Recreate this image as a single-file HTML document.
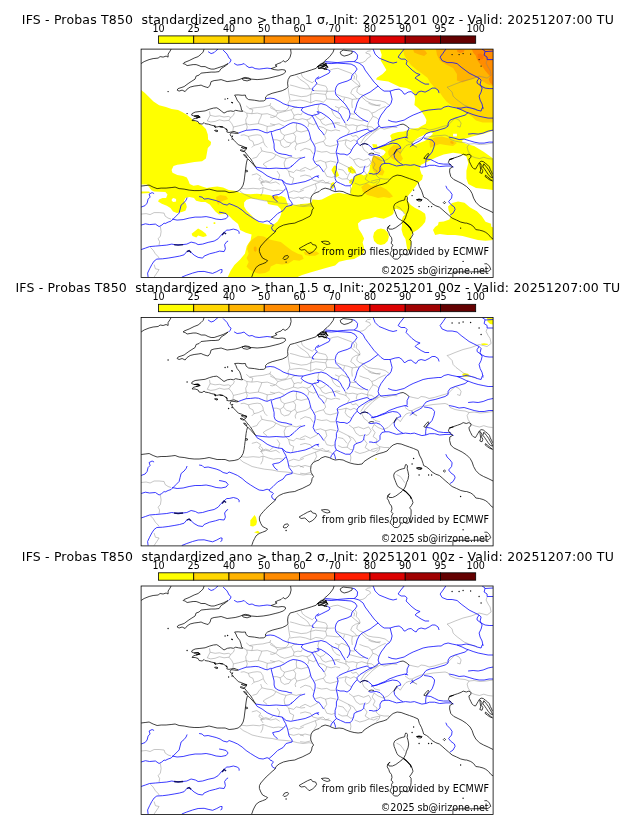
<!DOCTYPE html>
<html lang="fr"><head><meta charset="utf-8"><title>IFS - Probas T850</title>
<style>
html,body{margin:0;padding:0;background:#fff;}
body{width:630px;height:828px;overflow:hidden;position:relative;font-family:"DejaVu Sans","Liberation Sans",sans-serif;color:#000;}
#root{position:absolute;left:0;top:0;display:block;will-change:transform;opacity:0.999}
text{font-family:"DejaVu Sans","Liberation Sans",sans-serif;fill:#000}
.t{font-size:12.5px}
.l{font-size:9.6px}
.a{font-size:9.6px}
</style></head><body>
<svg id="root" width="630" height="828" viewBox="0 0 630 828">
<!-- panel 1 -->
<text class="t" x="21.8" y="23.6" textLength="592.0" lengthAdjust="spacing" xml:space="preserve">IFS - Probas T850  standardized ano &gt; than 1 σ, Init: 20251201 00z - Valid: 20251207:00 TU</text>
<rect x="158.50" y="35.9" width="35.24" height="7.4" fill="#ffff00" stroke="#000" stroke-width="0.8"/>
<rect x="193.74" y="35.9" width="35.24" height="7.4" fill="#ffd700" stroke="#000" stroke-width="0.8"/>
<rect x="228.99" y="35.9" width="35.24" height="7.4" fill="#ffb400" stroke="#000" stroke-width="0.8"/>
<rect x="264.23" y="35.9" width="35.24" height="7.4" fill="#ff8c00" stroke="#000" stroke-width="0.8"/>
<rect x="299.48" y="35.9" width="35.24" height="7.4" fill="#ff5f00" stroke="#000" stroke-width="0.8"/>
<rect x="334.72" y="35.9" width="35.24" height="7.4" fill="#ff1e00" stroke="#000" stroke-width="0.8"/>
<rect x="369.97" y="35.9" width="35.24" height="7.4" fill="#dc0000" stroke="#000" stroke-width="0.8"/>
<rect x="405.21" y="35.9" width="35.24" height="7.4" fill="#a00000" stroke="#000" stroke-width="0.8"/>
<rect x="440.46" y="35.9" width="35.24" height="7.4" fill="#640000" stroke="#000" stroke-width="0.8"/>
<text class="l" x="158.5" y="31.7" text-anchor="middle">10</text>
<text class="l" x="193.7" y="31.7" text-anchor="middle">25</text>
<text class="l" x="229.0" y="31.7" text-anchor="middle">40</text>
<text class="l" x="264.2" y="31.7" text-anchor="middle">50</text>
<text class="l" x="299.5" y="31.7" text-anchor="middle">60</text>
<text class="l" x="334.7" y="31.7" text-anchor="middle">70</text>
<text class="l" x="370.0" y="31.7" text-anchor="middle">80</text>
<text class="l" x="405.2" y="31.7" text-anchor="middle">90</text>
<text class="l" x="440.5" y="31.7" text-anchor="middle">95</text>
<text class="l" x="475.7" y="31.7" text-anchor="middle">100</text>
<svg x="141.1" y="49.1" width="352.0" height="228.4" viewBox="0 0 352.0 228.4" overflow="hidden">
<path d="M0.0 41.0 L3.8 43.8 L7.6 47.6 L12.4 52.4 L18.0 56.2 L24.8 58.0 L30.5 60.0 L37.0 61.0 L41.0 63.0 L45.7 65.7 L49.5 68.6 L52.4 71.4 L57.0 73.3 L61.0 76.2 L64.8 79.8 L66.7 85.5 L67.0 90.3 L70.0 93.0 L69.5 96.0 L66.7 98.9 L65.7 104.6 L64.8 109.3 L61.0 112.2 L53.3 113.0 L47.6 114.0 L42.0 115.0 L36.2 115.6 L32.4 117.0 L30.5 120.8 L31.4 123.6 L36.2 126.0 L42.0 127.0 L45.7 128.4 L47.6 132.2 L48.6 135.0 L52.4 136.6 L57.0 136.0 L61.0 137.3 L65.7 138.9 L71.4 137.9 L76.2 137.3 L82.0 138.5 L87.6 140.8 L93.3 141.7 L96.7 143.0 L103.0 144.7 L109.4 145.2 L115.7 144.7 L122.0 145.2 L128.4 145.8 L134.8 148.0 L140.3 147.0 L144.3 148.7 L146.0 153.5 L147.5 156.6 L153.8 155.8 L160.2 155.0 L166.5 154.3 L170.5 153.5 L171.3 150.3 L177.7 151.0 L180.8 150.3 L186.5 147.4 L192.2 144.6 L198.0 143.6 L203.6 145.0 L209.3 145.5 L209.3 140.8 L211.2 137.0 L209.3 133.0 L211.2 130.3 L214.0 126.5 L218.9 124.6 L222.7 126.5 L226.5 124.6 L228.4 120.8 L229.0 116.0 L232.0 113.0 L234.7 110.3 L238.3 108.0 L242.6 106.0 L244.7 103.0 L242.6 101.0 L238.3 99.6 L233.3 98.9 L232.0 96.7 L237.0 97.4 L242.6 96.7 L247.0 95.3 L249.7 92.4 L250.4 89.6 L249.0 86.7 L251.0 84.6 L257.0 83.0 L262.6 82.4 L267.0 81.0 L271.0 79.6 L277.0 78.9 L281.0 76.7 L284.7 74.6 L285.4 71.0 L283.3 66.7 L280.4 62.4 L277.0 58.9 L273.3 56.0 L274.0 49.5 L273.0 44.8 L270.0 41.0 L265.3 39.0 L258.7 38.0 L253.0 35.2 L247.2 32.4 L239.6 31.4 L234.9 30.5 L235.8 28.6 L241.5 24.8 L245.3 21.0 L242.5 16.2 L239.6 11.4 L240.6 5.7 L238.7 0.0 L352.0 0.0 L352.0 228.0 L86.7 228.0 L89.5 221.7 L93.3 216.0 L99.0 210.3 L103.8 204.6 L105.7 197.0 L109.5 191.2 L110.5 185.5 L104.8 183.6 L99.0 180.8 L97.0 175.0 L91.4 170.3 L87.6 166.5 L83.8 164.6 L77.9 165.3 L74.3 162.4 L71.4 158.9 L68.6 155.3 L64.3 153.0 L60.0 153.0 L55.0 151.7 L52.9 148.9 L48.6 148.0 L44.3 148.9 L42.9 151.7 L45.0 154.6 L45.7 158.0 L44.3 161.7 L40.7 163.0 L35.7 163.9 L32.0 162.4 L29.3 158.9 L25.7 156.7 L20.7 154.6 L17.0 152.4 L17.9 150.3 L21.4 148.9 L25.0 148.9 L26.4 145.3 L24.3 143.0 L18.6 142.7 L12.9 142.4 L10.0 141.0 L7.9 138.0 L5.7 135.3 L0.0 135.3Z M193.0 116.4 L195.6 117.0 L196.0 121.7 L198.0 126.5 L195.0 128.4 L192.2 124.6 L190.3 120.8Z M190.3 134.0 L193.0 133.0 L194.0 137.0 L191.2 139.8 L189.0 138.0Z M206.5 118.9 L210.3 117.0 L214.0 120.8 L215.0 123.6 L211.2 124.6 L207.4 122.7Z M208.4 131.2 L211.2 129.3 L213.0 132.2 L210.3 135.0 L208.0 134.0Z M231.2 95.0 L236.0 95.5 L236.0 99.0 L232.0 98.5Z M50.5 184.6 L54.3 181.7 L57.0 179.4 L61.0 181.7 L64.8 184.6 L65.7 187.0 L62.0 187.8 L57.0 186.5 L55.2 188.4 L51.4 187.0Z M72.5 173.2 L74.2 173.2 L74.2 174.8 L72.5 174.8Z M65.0 177.6 L66.5 177.6 L66.5 179.0 L65.0 179.0Z M0.0 142.4 L8.0 142.5 L9.0 144.0 L0.0 144.5Z" fill="#ffff00"/>
<path d="M155.4 228.3 L161.0 226.0 L168.3 223.6 L176.0 221.5 L186.5 218.5 L194.0 216.5 L198.0 212.7 L205.5 210.8 L213.0 209.8 L220.0 206.0 L223.0 203.6 L223.0 198.9 L221.5 193.3 L223.0 189.3 L220.7 184.6 L217.6 179.8 L216.8 174.3 L220.7 171.0 L228.7 169.5 L234.0 168.0 L238.3 168.9 L242.6 169.6 L246.9 168.0 L251.0 166.0 L252.6 164.0 L252.5 162.0 L253.0 160.6 L255.4 159.6 L259.0 160.8 L262.6 163.0 L264.0 165.3 L261.9 167.4 L260.4 171.7 L261.0 176.0 L260.4 180.3 L261.9 186.0 L264.4 189.8 L265.3 195.5 L266.3 201.2 L268.2 201.2 L270.0 195.5 L270.4 186.0 L272.6 183.0 L276.9 180.3 L281.0 176.7 L284.0 173.0 L284.7 168.9 L284.0 164.6 L279.7 161.7 L274.0 158.9 L269.7 156.0 L266.9 152.4 L265.4 148.9 L267.6 146.0 L270.4 142.4 L274.0 138.0 L276.9 133.9 L281.0 130.3 L281.9 126.0 L280.6 125.5 L278.7 119.8 L279.6 116.0 L287.2 112.2 L294.9 108.4 L302.5 105.5 L312.0 103.6 L319.6 104.6 L325.3 107.4 L327.2 114.0 L325.3 121.7 L325.3 129.3 L327.2 135.0 L334.9 138.9 L344.4 139.8 L352.0 140.8 L352.0 228.0Z M103.0 153.5 L105.4 150.6 L110.2 149.5 L115.7 150.0 L121.3 151.0 L126.0 151.9 L126.9 155.0 L131.6 155.8 L136.4 156.6 L139.6 159.8 L140.3 163.8 L138.8 168.5 L136.4 172.5 L133.2 174.9 L128.4 175.7 L123.7 174.9 L118.0 173.3 L113.4 169.3 L109.4 165.4 L105.4 161.4 L103.0 157.4Z M271.0 94.6 L274.0 91.0 L278.3 88.0 L284.0 85.3 L289.7 83.0 L292.0 84.6 L288.3 88.0 L284.0 91.7 L278.3 93.9 L274.0 96.0Z M312.0 84.6 L315.8 84.6 L315.8 87.4 L312.0 87.4Z M321.0 93.0 L321.5 90.3 L331.0 87.4 L342.5 84.6 L352.0 81.7 L352.0 109.3 L342.5 102.7 L333.0 97.0 L325.3 95.0Z M30.7 150.0 L32.5 148.9 L35.0 150.0 L35.0 152.5 L32.5 153.0 L30.7 152.0Z" fill="#fff"/>
<path d="M232.0 187.7 L233.0 183.5 L236.0 180.5 L239.8 179.5 L243.6 180.5 L246.6 183.5 L247.8 187.7 L246.6 192.0 L243.6 195.0 L239.8 196.0 L236.0 195.0 L233.0 192.0Z M306.9 157.4 L311.0 153.9 L316.9 152.4 L323.4 153.6 L329.0 158.4 L335.8 162.2 L340.6 167.0 L344.4 172.7 L350.0 174.6 L350.0 177.4 L352.0 178.4 L352.0 190.8 L344.4 191.7 L336.8 190.8 L329.0 188.9 L321.5 187.0 L314.0 186.0 L306.3 186.0 L298.7 185.0 L294.0 186.0 L291.9 181.0 L294.0 178.0 L296.9 176.0 L297.6 173.0 L302.6 172.4 L308.3 170.3 L309.7 166.7 L307.6 161.7Z" fill="#ffff00"/>
<path d="M261.5 0.0 L263.4 6.7 L266.3 11.4 L270.0 16.2 L275.8 21.0 L281.5 24.8 L286.3 28.6 L289.0 33.3 L293.0 38.0 L297.7 42.0 L301.5 47.6 L305.3 52.4 L310.0 56.2 L315.8 59.0 L321.5 62.0 L327.2 64.8 L331.0 67.6 L334.9 71.4 L341.5 73.3 L352.0 73.3 L352.0 0.0Z M249.0 98.9 L252.6 96.0 L258.3 96.7 L260.4 100.3 L259.7 105.3 L261.9 109.6 L259.7 112.4 L255.4 111.7 L251.0 109.6 L247.6 106.0 L246.9 102.4Z M232.0 106.5 L237.7 107.4 L241.5 112.2 L239.6 117.0 L243.4 122.7 L241.5 126.5 L235.8 125.5 L232.0 121.7 L230.0 114.0Z M288.2 92.2 L293.0 88.4 L300.6 87.4 L308.2 89.3 L315.8 94.0 L312.0 97.0 L304.4 96.0 L298.7 95.0 L293.0 97.0 L289.0 98.9Z M232.0 138.9 L239.7 137.4 L245.4 140.3 L249.7 144.6 L251.9 147.4 L248.3 148.9 L242.6 148.0 L236.9 148.9 L232.0 147.4 L226.0 146.0 L221.0 142.0 L222.0 139.0 L227.0 137.0Z M220.0 138.0 L225.5 134.0 L230.3 137.0 L236.0 135.0 L236.0 148.0 L232.0 146.5 L227.4 142.7 L222.0 141.7Z M107.6 194.6 L111.0 190.3 L116.9 186.7 L122.6 187.4 L128.3 190.3 L134.0 191.7 L139.7 193.0 L145.4 197.4 L151.0 201.7 L156.9 204.6 L161.0 206.0 L162.6 209.6 L158.3 211.7 L152.6 211.0 L146.9 214.6 L141.0 215.3 L135.4 214.6 L129.7 217.4 L128.3 221.7 L124.0 223.9 L118.3 224.6 L112.6 223.0 L108.3 220.3 L105.4 217.4 L107.6 213.0 L105.4 208.9 L107.6 204.6 L106.0 199.6Z M162.6 203.0 L168.3 201.7 L175.4 202.4 L178.3 204.6 L174.0 206.7 L168.3 206.7 L164.0 206.0Z M75.0 148.0 L79.0 146.0 L85.0 147.0 L87.0 150.0 L83.0 151.5 L79.0 153.0 L77.0 156.0 L75.5 152.0Z M131.0 147.0 L136.0 146.5 L138.0 149.0 L134.0 151.0 L130.5 149.5Z" fill="#ffd700"/>
<path d="M294.9 0.0 L295.8 5.7 L298.7 11.4 L304.4 15.2 L312.0 19.0 L315.8 24.8 L315.8 31.4 L321.5 33.3 L329.0 30.5 L335.8 28.6 L340.6 31.4 L346.3 35.2 L352.0 37.0 L352.0 0.0Z M272.0 0.5 L278.0 0.0 L284.0 1.5 L286.0 4.5 L283.0 7.0 L278.0 5.5 L273.0 3.5Z M112.6 198.5 L114.0 197.2 L115.4 198.5 L115.6 201.5 L114.2 203.0 L112.8 201.5Z M309.0 92.5 L311.0 92.0 L313.0 94.0 L311.5 95.0 L309.5 94.2Z" fill="#ffb400"/>
<path d="M330.7 0.0 L332.0 3.3 L334.7 6.7 L336.0 10.7 L338.7 14.7 L341.3 17.3 L344.0 21.3 L346.7 24.7 L349.3 27.3 L347.5 30.0 L349.0 34.0 L352.0 36.0 L352.0 0.0Z M316.0 0.5 L319.0 0.3 L323.5 1.0 L322.5 3.2 L318.5 3.8 L316.0 2.5Z" fill="#ff8c00"/>
<path d="M336.5 5.0 L339.5 4.3 L342.5 6.5 L342.0 10.0 L339.0 10.7 L336.8 8.5Z" fill="#ff7800"/>
<path d="M187.9 21.4 L192.3 19.8 L196.8 19.2 L201.2 20.9 L205.7 22.6 L210.1 24.2 L213.4 27.0 L212.9 30.3 M160.1 24.2 L161.2 27.6 L164.6 30.3 L167.9 32.0 L171.2 33.7 L172.9 32.0 M171.8 41.4 L176.8 41.8 L182.3 42.0 L187.9 42.2 L192.9 42.0 M195.7 45.3 L201.2 47.6 L206.8 48.7 L211.2 50.3 L215.7 49.8 L219.0 49.2 M175.1 34.8 L179.6 35.9 L184.6 37.0 L186.2 39.8 L185.7 42.0 M149.0 35.9 L153.4 37.0 L159.0 38.7 L164.6 39.8 L169.0 39.8 L171.2 39.8 M155.7 27.0 L159.0 30.3 L163.4 33.1 L166.8 35.9 L169.0 39.8 M149.0 45.3 L154.6 46.4 L160.1 47.6 L165.7 47.0 L169.6 45.3 L170.7 42.0 M169.6 45.3 L174.6 44.2 L180.1 44.8 L184.6 45.3 L186.2 42.0 M149.0 52.0 L153.4 51.4 L159.0 50.9 L164.6 52.0 L169.6 53.7 L169.6 45.3 M184.6 45.3 L185.7 49.8 L182.3 53.1 L179.0 52.0 L174.6 51.4 L169.6 53.7 M185.7 49.8 L191.2 50.3 L196.8 50.9 L200.1 50.3 M209.6 29.8 L213.4 33.1 L216.8 35.9 L219.0 37.6 M211.2 40.3 L214.6 38.1 L219.0 37.0 M209.6 44.2 L211.2 40.3 M209.6 44.2 L212.9 46.4 L215.7 49.8 M211.2 50.3 L210.7 54.2 L211.2 59.0 M203.4 48.7 L202.3 52.6 M229.6 1.7 L226.2 2.2 L224.6 3.9 L228.4 5.0 L229.6 7.2 L226.2 9.4 L224.6 11.7 L221.8 13.3 L218.4 13.9 M214.0 23.9 L215.7 26.7 L215.1 30.6 L217.9 33.3 L219.0 36.7 L216.2 39.4 L215.7 42.8 L218.4 45.0 L221.8 46.1 L227.0 50.0 L232.0 51.0 L238.0 51.5 L244.0 53.0 L248.0 56.0 M338.0 27.0 L330.0 30.0 L322.0 32.0 L314.0 35.0 L308.0 37.5 L306.0 38.0 L308.0 40.0 L311.0 43.0 L312.0 47.0 L315.0 50.0 L319.0 53.0 L323.0 56.0 L328.0 58.0 L333.0 60.0 L336.0 61.0 M338.0 27.0 L342.0 28.0 L346.0 29.0 L350.0 26.0 L349.0 21.0 L347.0 18.0 L345.0 14.0 L346.0 11.0 M268.0 79.0 L272.0 80.0 L277.0 81.0 L280.0 79.0 L284.0 79.5 L288.0 81.0 L293.0 80.0 L298.0 78.5 L303.0 77.0 L307.0 76.0 L311.0 72.0 L314.0 69.0 L318.0 71.0 L320.0 74.0 L319.0 78.0 L316.0 77.0 M264.0 90.0 L268.0 93.0 L271.0 93.0 L275.0 91.0 L280.0 89.0 L286.0 88.0 L292.0 87.0 L298.0 86.5 L304.0 86.0 L307.0 87.0 L309.0 90.0 L314.0 92.0 L319.0 93.0 L324.0 93.5 L328.0 95.0 L326.0 98.0 L327.0 102.0 L329.0 105.0 M271.0 93.0 L273.0 97.0 L276.0 98.0 M328.0 95.0 L333.0 94.5 L339.0 95.5 L345.0 95.0 L352.0 94.0 M330.0 107.0 L334.0 108.5 L338.3 109.5 L342.7 108.2 L347.0 109.5 L351.4 110.0 M240.0 78.5 L236.0 81.0 L232.0 84.0 L228.0 88.0 L224.0 92.0 L221.0 97.0 L223.0 101.0 L227.0 104.0 M233.0 107.0 L237.0 110.0 L242.0 112.0 L247.0 110.0 L250.0 107.0 L253.0 104.0 L256.7 101.6 L259.2 104.2 L261.7 100.3 L264.9 96.5 L268.1 95.3 L273.2 96.5 L275.7 98.4 M230.0 132.1 L235.1 130.8 L238.9 130.2 L237.6 133.4 L235.1 135.3 M233.0 107.0 L231.0 111.0 L234.0 115.0 L232.0 119.0 L236.0 122.0 L235.0 126.0 L238.0 129.0 L243.0 130.0 L248.0 130.0 M98.7 141.7 L102.0 144.5 L106.5 146.7 L111.0 149.0 L116.5 150.3 L123.5 151.7 L131.0 152.5 L138.0 154.0 L145.0 154.5 L151.0 155.3 L156.5 156.7 L162.0 157.5 L168.0 156.7 L171.5 157.5 M0.0 165.0 L5.0 164.5 L9.0 165.5 L13.0 163.5 L18.0 163.5 L23.0 164.0 L24.0 167.0 L27.0 169.0 L30.0 170.0 M19.3 177.5 L20.0 182.5 L19.3 187.0 L17.0 189.7 L18.5 192.5 L18.0 196.0 M9.3 198.3 L12.0 201.0 L14.3 204.7 L17.0 207.5 L18.0 209.0 M13.0 215.5 L14.3 219.7 L18.0 220.5 L15.7 224.0 L13.0 228.0 M255.4 157.1 L259.2 159.0 L262.1 162.8 L263.5 165.2 M128.4 56.2 L132.3 58.8 L134.8 61.3 L139.9 62.0 L145.0 61.3 L147.5 58.1 L146.9 54.3 L148.8 50.5 L148.1 46.7 L147.5 42.9 L146.9 38.4 M220.0 47.3 L225.0 51.8 L230.1 54.3 L235.2 56.2 L239.0 56.9 M119.6 98.0 L120.8 101.8 L117.7 105.0 L115.7 108.1 L111.3 109.4 M120.8 101.8 L125.9 103.0 L131.0 103.7 L134.8 105.6 L132.9 108.8 L128.4 111.3 L124.6 113.2 L122.0 115.1 L125.9 118.3 M134.8 105.6 L139.9 108.1 L145.0 109.4 L143.0 113.8 L143.7 118.3 M145.0 109.4 L150.0 108.1 L155.1 109.4 L160.2 108.1 M110.7 125.9 L115.7 124.6 L119.6 127.2 L117.7 130.4 L120.8 132.9 L124.6 131.6 L128.4 132.9 L132.3 129.7 M136.0 122.0 L138.6 125.9 L137.3 131.0 M143.7 118.3 L147.5 122.0 L152.6 123.4 L155.1 120.8 L160.2 122.0 L164.0 121.5 M147.5 122.0 L148.8 127.2 L152.6 129.0 L151.3 134.2 M119.6 133.5 L122.0 137.0 M175.5 101.8 L180.6 103.0 L185.7 102.4 L189.5 104.3 L194.6 104.3 M174.2 112.6 L179.3 111.3 L184.4 113.2 L189.5 112.0 L195.2 113.2 M184.4 113.2 L185.7 118.3 L183.1 122.0 L185.7 127.2 L190.7 128.4 L193.9 127.2 M159.0 101.8 L164.0 99.2 L169.2 100.5 L172.3 105.0 M159.0 120.8 L164.0 118.3 L169.2 120.8 L174.2 118.3 L177.4 116.4 M197.1 113.2 L202.2 115.7 L207.3 118.3 L209.8 122.0 L207.3 125.9 L206.0 129.7 L209.8 132.3 L211.7 131.6 M207.9 107.5 L212.3 110.7 L217.4 109.4 L222.5 111.3 L227.6 109.4 L230.1 113.2 L227.6 117.0 L224.4 118.3 M212.3 110.7 L214.9 115.7 L218.7 118.3 L222.5 117.7 M207.3 118.3 L212.3 120.8 L216.1 126.5 M230.1 99.2 L233.9 103.0 L239.0 104.3 M159.0 127.2 L164.0 125.9 L169.2 127.2 L171.7 131.0 L176.8 132.3 L181.9 131.0 L184.4 133.5 L189.5 134.8 L192.0 137.0 M99.9 139.2 L105.6 139.8 L112.0 139.2 L118.3 139.8 L122.0 138.5 L127.2 140.4 L132.3 141.7 L137.3 141.0 L142.4 141.7 M122.0 138.5 L121.5 143.0 L119.6 146.8 M119.6 134.0 L124.6 132.8 L129.7 134.0 L134.8 132.8 L138.6 135.3 M147.5 143.6 L152.6 141.7 L157.7 143.0 L162.7 141.0 M147.5 148.0 L152.6 149.3 L157.7 148.0 L162.7 150.0 M119.6 129.0 L122.0 131.5 L119.6 134.0 M159.0 141.0 L164.0 138.5 L169.2 136.6 L174.2 134.7 L179.3 132.8 L184.4 134.0 L188.2 132.8 M169.2 149.3 L164.0 148.0 L159.0 149.3 M169.2 155.0 L164.0 156.3 L159.0 155.7 M209.2 136.6 L209.8 140.4 L209.2 144.2 M213.6 134.0 L218.7 136.0 L223.8 134.7 L228.2 132.8 L232.7 134.0 L236.5 132.2 M174.2 134.7 L175.5 139.2 L173.0 143.6 M223.0 122.0 L226.0 126.0 L224.0 130.0 L228.2 132.8 M197.0 120.0 L202.0 121.0 L206.0 125.9 M197.0 128.0 L201.0 130.0 L206.0 129.7 M68.4 62.3 L69.0 66.2 L67.3 69.6 L66.2 71.8 L69.6 72.9 L74.0 72.3 L78.4 70.7 L82.9 71.8 L87.9 71.2 L89.6 68.4 L92.3 66.2 L93.4 63.4 M69.0 66.2 L74.0 67.3 L78.4 66.8 L82.9 67.9 L87.3 67.3 L89.6 68.4 M87.9 71.2 L90.7 74.6 L92.3 77.9 L91.8 81.8 M92.3 77.9 L97.3 76.8 L101.8 75.7 L105.1 74.6 L104.6 70.7 L106.2 67.3 L105.7 64.0 M101.8 61.8 L105.7 64.0 L110.7 64.6 L116.2 64.0 L120.7 65.1 L126.2 64.6 L130.7 66.2 L134.0 67.3 M105.1 56.8 L108.4 59.6 L111.8 59.0 L116.2 58.4 L121.8 57.9 L126.2 56.8 L129.0 56.2 L129.6 54.0 M110.7 64.6 L111.8 60.7 L108.4 59.6 M105.1 74.6 L108.4 75.7 L112.9 75.1 L117.3 74.6 L121.8 75.7 L126.2 77.3 L130.7 76.8 L134.0 75.7 M120.7 65.1 L119.6 68.4 L117.9 71.8 L117.3 74.6 M105.1 74.6 L106.2 77.9 L105.1 81.2 M99.6 86.2 L102.9 85.7 L107.3 87.3 L111.8 86.2 L116.2 85.7 L119.6 86.2 L121.8 89.6 L122.3 92.9 L124.0 96.2 L126.2 98.4 M107.3 87.3 L108.4 90.7 L111.8 92.3 L112.9 96.2 L110.7 98.4 M112.9 96.2 L117.3 95.1 L121.8 92.9 M126.2 77.3 L125.7 80.7 L126.2 83.8 M129.0 58.4 L133.4 60.7 L136.8 64.0 L134.6 67.3 L131.2 68.4 L129.0 67.9 M136.8 64.0 L141.2 62.9 L145.7 61.8 L150.1 60.7 L152.9 58.4 L155.7 57.9 M134.6 67.3 L139.0 70.7 L143.4 72.3 L147.9 71.2 L152.3 69.6 L152.9 66.2 L150.1 60.7 M152.9 66.2 L156.8 65.1 L160.1 65.7 L161.2 63.4 M152.3 69.6 L156.8 70.7 L161.2 69.6 L165.7 70.7 L169.0 69.6 L170.7 66.8 M165.7 70.7 L167.9 74.0 L166.8 77.9 M167.9 74.0 L172.3 75.7 L175.7 74.0 M129.0 74.6 L133.4 75.7 L137.9 74.6 L141.2 76.2 L143.4 77.3 M139.0 80.1 L140.1 84.0 L143.4 86.2 L142.3 89.6 L139.0 91.8 L135.7 90.7 L131.8 90.7 M143.4 86.2 L147.9 85.1 L152.3 84.0 L155.7 81.8 L155.1 77.9 L155.7 74.0 M155.7 81.8 L160.1 82.9 L164.6 81.8 L167.3 81.2 M152.3 84.0 L154.6 87.3 L154.0 91.8 L155.7 95.1 L154.0 98.4 L154.6 101.0 M142.3 89.6 L145.7 92.9 L150.1 94.0 L154.0 91.8 M155.7 95.1 L160.1 94.0 L164.6 92.9 L168.4 90.7 L169.0 89.0 M139.0 91.8 L140.1 96.2 L143.4 98.4 L147.9 97.3 L150.1 94.0 M173.4 95.1 L177.9 93.4 L182.3 92.3 L184.6 89.6 L183.4 86.2 M182.3 92.3 L184.6 96.2 L189.0 97.3 L193.4 96.2 L196.8 95.1 M177.9 77.3 L182.3 78.4 L185.7 80.7 L184.6 84.0 L182.9 86.2 M185.7 80.7 L190.1 81.8 L194.6 80.7 L199.0 81.8 M173.4 64.6 L175.7 68.4 L179.0 70.7 L182.3 69.6 L184.6 67.3 M179.0 70.7 L181.2 74.6 L184.6 76.2 L187.9 75.1 L191.2 74.6 M177.9 55.3 L176.8 59.6 L177.9 63.4 M190.1 59.6 L192.3 65.1 L195.7 68.4 L199.0 69.6 M191.2 74.6 L195.7 73.4 L199.0 74.0 M194.0 57.3 L197.9 59.0 L200.7 57.3 L204.6 59.0 L207.9 60.7 M197.9 59.0 L197.3 62.9 M207.9 68.4 L211.8 69.6 L216.2 70.7 L220.7 71.8 L223.4 71.2 M209.0 64.6 L212.9 65.1 L215.7 63.4 M218.4 58.4 L222.9 60.1 L227.3 61.2 L230.7 64.0 L231.8 67.3 L235.1 68.4 L237.9 70.7 M230.7 64.0 L234.0 62.9 L237.3 60.7 L240.7 59.0 L244.6 57.3 M227.3 54.0 L230.7 55.7 L235.1 56.2 L239.6 55.7 M231.8 67.3 L229.6 70.7 L227.3 74.0 L226.2 77.3 L227.3 80.1 M226.2 77.3 L230.7 77.9 L234.0 80.7 L236.8 79.0 M204.0 74.6 L207.3 76.2 L211.8 75.7 L216.2 76.8 L220.7 75.7 L226.2 77.3 M216.2 76.8 L215.1 80.7 L216.2 82.3 M204.6 74.6 L205.1 78.4 L208.4 81.8 L206.2 85.7 M194.0 74.0 L198.4 76.2 L202.9 77.3 L205.1 78.4 M196.2 92.3 L200.7 91.8 L205.1 90.7 L209.6 92.3 L212.9 90.7 L215.7 92.3 M205.1 90.7 L204.0 95.1 L206.2 98.4 L210.7 101.0 M209.6 85.7 L211.8 87.3 L215.1 86.2 L217.9 89.6 M237.3 79.0 L234.0 81.2 L230.7 82.9 L227.3 85.1 L224.0 87.3 L221.8 90.7 L219.6 94.0 M239.6 78.4 L242.9 80.1 L247.3 79.0 L251.8 77.9 L256.2 78.4" fill="none" stroke="#808080" stroke-width="0.45"/>
<path d="M67.0 2.5 L70.0 4.5 L73.0 3.5 L75.0 1.5 L77.0 0.0 M82.0 1.0 L86.0 5.0 L88.0 9.0 L90.0 10.7 L89.0 13.0 L87.5 14.5 M93.0 14.3 L96.0 16.0 L100.0 15.5 L103.0 14.5 L105.0 16.5 L108.0 18.5 L111.0 18.0 L114.0 19.5 L118.0 20.0 L122.0 19.5 L126.0 19.0 L130.0 19.5 M125.0 49.5 L129.0 49.0 L133.0 49.5 L136.0 51.0 L139.0 52.5 L142.0 54.5 L146.0 56.0 L150.0 57.0 L154.0 58.0 L158.0 58.5 L162.0 58.5 L160.0 61.0 L163.0 63.5 L167.0 65.5 L171.0 66.5 L175.0 65.5 L178.0 64.5 L176.0 62.5 L180.0 63.5 L184.0 66.0 L188.0 69.0 L191.0 72.0 L193.0 76.0 L194.0 79.0 M162.0 58.5 L166.0 57.5 L170.0 56.5 L174.0 55.5 L178.0 55.0 L180.0 54.5 L185.0 56.0 L189.0 59.0 L192.0 61.0 L196.0 62.5 L199.0 65.0 L201.0 69.0 L203.0 72.0 L204.0 74.0 M171.0 66.5 L173.0 70.0 L175.0 74.0 L177.0 78.0 L178.0 80.0 L181.0 83.0 L183.0 86.0 M178.0 27.5 L175.0 29.5 L174.0 32.0 L176.0 34.0 L174.0 36.5 L172.0 38.5 L171.0 41.0 L173.0 41.5 M176.0 30.0 L180.0 28.0 L184.0 26.0 L188.0 24.0 L189.0 22.0 L186.0 20.0 M184.0 12.5 L190.0 13.0 L196.0 13.5 L202.0 13.0 L208.0 12.5 L213.0 12.5 L216.0 10.0 L216.5 6.0 L214.0 3.0 L211.0 2.0 M213.0 12.5 L218.0 14.0 L222.0 17.0 L224.0 21.0 L227.0 25.0 L230.0 29.0 L233.0 33.0 L236.0 36.0 L238.0 38.0 L240.0 40.0 L243.0 42.0 L247.0 42.0 L249.0 42.0 L250.0 46.0 L251.0 50.0 L250.0 54.0 L248.0 57.0 L246.0 58.0 L243.0 62.0 L240.0 66.0 L238.0 70.0 L237.0 74.0 L238.0 77.0 L240.0 78.5 L245.0 78.0 L250.0 77.5 L255.0 77.0 L259.0 75.5 M249.0 42.0 L254.0 40.5 L258.0 40.0 L261.0 42.0 L263.0 45.0 L264.0 45.0 L267.0 43.0 L270.0 42.5 L273.0 45.0 L275.0 46.0 L277.0 43.0 L280.0 42.0 L284.0 43.0 L288.0 41.0 L291.0 39.0 L294.0 39.0 L297.0 41.0 L298.0 44.0 M184.0 14.0 L190.0 14.5 L196.0 14.0 L204.0 14.5 L210.0 15.0 L214.0 17.0 L216.0 20.0 L214.0 23.0 L211.0 26.0 L210.0 30.0 L206.0 32.0 L201.0 33.5 L197.0 35.0 L195.0 38.0 L194.0 42.0 L195.0 46.0 L198.0 49.0 L201.0 52.0 L204.0 55.0 L206.0 58.0 L208.0 61.0 L209.0 65.0 L208.0 69.0 L206.0 72.0 M237.0 37.0 L233.0 40.0 L229.0 43.0 L225.0 45.0 L221.0 47.0 L218.0 50.0 L216.0 54.0 L215.0 58.0 L214.0 61.0 L213.0 63.0 L216.0 66.0 L219.0 68.5 L222.0 70.5 L225.0 72.0 L227.0 72.5 M232.0 0.0 L234.0 5.0 L238.0 9.0 L243.0 11.0 L248.0 13.0 L252.0 14.0 L256.0 13.0 M263.0 0.0 L259.0 5.0 L257.0 8.0 L260.0 10.0 L264.0 10.0 L266.0 12.0 L265.0 15.0 L268.0 18.0 L271.0 21.0 L275.0 24.0 L279.0 25.5 L276.0 27.0 L274.0 29.0 L277.0 31.0 L280.0 33.0 L284.0 35.0 L288.0 35.0 M304.7 0.0 L302.0 4.0 L299.0 8.0 L301.0 11.5 L306.0 13.5 L311.0 13.5 L316.0 14.5 L320.0 18.0 L324.0 21.0 L328.0 24.0 L332.0 26.0 L336.0 28.0 L338.0 29.0 L336.0 32.0 L336.0 34.0 L340.0 37.0 L344.0 39.0 L348.0 39.5 L352.0 39.5 M338.0 29.0 L340.0 31.0 L339.0 35.0 L341.0 39.0 L340.0 43.0 L338.0 47.0 L339.0 51.0 L341.0 55.0 L342.0 60.0 M341.0 0.0 L344.0 2.0 L343.0 6.0 L346.0 8.0 L346.0 10.5 L352.0 10.5 M344.0 2.5 L352.0 2.0 M247.0 71.0 L251.0 72.5 L255.0 73.0 L259.0 72.0 L263.0 71.0 L268.0 68.0 L272.0 66.0 L277.0 64.0 L282.0 62.0 L287.0 61.0 L292.0 60.5 L297.0 60.0 L300.0 60.0 L303.0 58.0 L307.0 57.0 L311.0 58.0 L316.0 59.0 L321.0 61.0 L325.0 63.0 L328.0 64.0 L332.0 65.5 L337.0 67.0 L342.0 68.0 L347.0 69.0 L352.0 69.0 M316.0 59.0 L320.0 59.0 L325.0 58.0 L330.0 59.0 L334.0 60.0 L336.0 61.0 L340.0 62.0 L341.0 59.0 L342.0 58.0 M327.0 63.5 L324.0 66.0 L319.0 67.5 L314.0 69.0 L309.0 71.0 L307.0 74.0 L307.0 77.0 L304.0 79.0 L299.0 80.5 L294.0 82.0 L289.0 83.0 L285.0 84.5 L283.0 87.0 L281.0 90.0 L278.0 92.0 L274.0 94.0 L271.0 96.0 L269.0 98.0 M327.0 85.0 L332.0 84.5 L337.0 85.0 L342.0 84.0 L347.0 82.0 L352.0 81.0 M308.0 88.0 L313.0 89.0 L318.0 90.5 L323.0 90.0 L328.0 91.5 L333.0 93.0 L338.0 94.0 L343.0 94.0 L348.0 93.0 L352.0 93.0 M283.0 89.5 L287.0 90.0 L291.0 91.0 L293.5 94.0 L292.9 97.8 L291.0 102.9 L287.8 106.7 L285.2 109.9 L284.6 113.7 L284.6 117.5 M285.2 109.9 L289.7 110.5 L293.5 112.4 L297.3 114.3 L302.4 115.0 L307.5 115.0 L310.0 115.6 M268.0 79.0 L266.0 83.0 L266.0 87.0 L264.0 89.0 M97.3 84.0 L100.7 82.7 L105.1 81.2 L109.6 80.9 L114.0 80.4 L117.3 80.7 L120.7 82.0 L124.0 83.4 L126.2 83.8 L129.6 82.3 L131.0 82.5 L135.0 81.0 L139.0 80.0 L143.0 78.0 L146.0 76.0 L149.0 74.5 L152.0 73.5 L156.0 74.0 L160.0 75.0 L163.0 76.5 L166.0 79.0 L168.0 83.0 L169.0 87.0 L170.0 91.0 L172.0 94.0 L174.0 98.0 L174.0 102.0 L173.0 106.0 L172.0 110.0 L174.0 114.0 L176.0 116.0 L177.5 116.0 L180.3 119.5 L182.5 123.0 M130.0 83.0 L131.0 87.0 L132.0 91.0 L133.0 95.0 L133.0 99.0 L134.0 102.0 L137.0 104.0 L141.0 105.0 L145.0 105.5 L148.0 106.5 L151.0 107.0 M150.0 117.5 L153.0 115.0 L156.0 112.0 L159.0 109.5 L162.0 108.5 L164.0 108.0 M226.0 80.0 L222.0 81.0 L217.0 82.5 L212.0 84.0 L207.0 85.5 L202.0 87.5 L198.0 89.5 L196.0 91.5 L197.0 95.0 L196.0 99.0 L195.0 103.0 L196.0 107.0 L197.0 112.0 L195.3 116.0 L195.3 120.3 L194.0 124.5 L194.0 129.5 L195.3 132.5 L192.5 135.3 L190.3 138.0 L189.5 140.3 M192.5 135.3 L194.0 139.0 L194.5 141.7 M238.0 77.0 L233.9 80.3 L230.1 82.3 L228.2 81.6 L226.0 80.0 M231.0 81.5 L227.0 83.5 L223.0 86.0 L219.0 88.5 L216.0 91.5 L216.0 93.7 L213.0 97.0 L211.0 100.0 L209.0 104.0 L206.0 106.0 L203.0 105.0 L199.0 105.0 L196.0 104.0 M216.0 93.7 L219.0 96.5 L221.0 95.0 L224.0 94.5 L227.0 95.5 L230.0 98.0 L232.0 100.0 L236.0 99.0 L240.0 97.0 L244.0 95.5 L248.0 93.0 L252.0 91.5 L256.0 90.0 L260.0 89.0 L264.0 88.0 L267.0 89.0 M230.0 100.3 L235.1 99.1 L241.4 97.2 L246.5 95.3 L251.6 94.0 L256.0 94.6 L258.6 96.5 L259.8 99.1 L257.3 99.7 L254.8 102.3 L252.9 105.4 L253.5 108.6 L256.0 111.8 L259.2 114.3 L261.7 115.6 M227.5 105.5 L230.0 106.1 L235.1 105.4 L238.9 106.7 L242.1 109.9 L244.0 114.3 M270.6 94.0 L271.9 96.5 M195.3 132.5 L199.5 134.5 L204.5 136.7 L209.0 136.7 L211.0 134.5 L212.5 131.0 L213.0 127.5 L216.0 125.7 L220.0 124.5 L222.5 122.5 L223.0 119.0 L224.0 116.7 M176.0 126.7 L177.5 129.0 M312.5 118.0 L310.0 116.9 L304.9 116.9 L298.6 117.5 L293.5 116.2 L288.4 116.2 L284.6 117.5 L280.8 118.1 L277.0 116.9 L273.2 115.6 L269.4 116.2 L264.3 115.6 L260.5 116.2 L255.4 116.9 L251.6 115.6 L247.8 114.3 L244.0 114.3 L240.8 115.0 L238.9 118.1 L238.9 121.9 L236.3 124.5 L232.5 125.1 L230.0 124.5 L228.0 124.5 M304.7 136.7 L306.0 139.5 L309.0 142.5 L311.0 145.3 L310.5 149.0 L307.5 152.5 L309.7 155.3 L313.3 158.0 L314.0 160.3 L312.0 164.0 L309.0 166.0 M114.5 118.0 L116.0 120.3 L121.0 123.0 L126.0 126.7 L131.0 129.0 L136.0 130.3 L141.0 131.0 L143.0 135.0 L144.5 137.5 L146.5 143.0 L148.0 150.0 L151.0 154.0 L151.0 156.0 L145.0 157.5 L142.0 161.5 L136.5 164.5 L132.0 169.0 L128.0 172.5 M141.0 131.0 L145.0 134.5 L149.5 135.3 L156.5 134.0 L164.0 132.5 L169.5 130.3 L174.0 127.5 L178.0 126.7 M114.5 118.0 L121.0 119.0 L128.0 119.5 L135.0 119.0 L142.0 119.5 L148.0 119.0 L151.0 116.7 M144.5 139.5 L142.0 142.5 L138.0 145.3 L134.0 146.0 L131.5 146.7 L133.0 149.5 L135.0 151.7 L136.5 152.5 M58.0 147.5 L61.0 148.0 L63.0 150.0 L67.0 149.5 L71.0 150.5 L75.0 151.5 L79.0 153.0 L82.0 155.0 L86.0 156.0 L88.0 154.5 L92.0 156.0 L96.5 158.0 L101.0 161.0 L105.0 164.5 L109.5 167.5 L114.0 170.3 L118.0 172.5 L122.0 173.0 L126.0 171.7 L128.0 172.5 L129.5 174.5 L131.0 174.7 L132.3 176.0 L130.5 178.3 L131.0 180.5 L133.0 182.0 L134.5 182.3 M0.0 158.0 L4.0 156.5 L6.0 154.0 L7.0 150.0 L9.0 148.0 L8.0 145.0 L11.0 143.5 L13.0 144.5 M46.0 148.5 L45.0 151.0 L43.0 153.5 L40.0 156.0 L39.0 160.0 L38.0 164.0 L35.0 167.0 L32.0 170.0 L30.0 172.0 L27.0 173.0 L24.0 174.5 L23.0 174.0 L20.7 176.0 L18.0 177.5 L14.3 175.0 L8.5 175.5 L4.3 174.7 L0.0 176.0 M31.0 170.0 L36.0 171.0 L42.0 170.5 L48.0 169.0 L54.0 168.0 L60.0 168.0 L65.0 167.5 L70.0 168.5 L75.0 170.0 L80.0 170.5 L85.0 169.5 L87.0 167.0 L85.0 164.5 L81.0 163.5 L78.0 163.0 M0.0 200.5 L4.3 199.0 L8.5 197.5 L14.3 197.0 L20.0 196.5 L25.7 196.0 L30.7 195.0 L34.3 195.7 L41.5 195.5 L45.7 195.0 L50.0 193.0 L54.3 194.0 L57.0 195.5 L61.5 195.0 L67.0 193.3 L73.0 192.0 L77.0 189.7 L80.0 186.0 L83.0 183.3 L85.7 181.0 L88.0 181.0 L92.3 180.0 L96.0 181.0 L98.0 182.5 L98.0 184.7 M7.0 228.0 L6.5 224.0 L8.5 219.7 L10.7 215.5 L13.0 212.0 L15.7 210.0 L21.5 209.7 L27.0 209.0 L33.0 208.0 L38.5 207.0 L43.0 205.7 L45.7 202.5 L48.0 202.0 L50.0 203.3 L53.0 206.0 L57.0 208.3 L61.5 209.0 L63.0 207.0 L68.5 204.7 L74.3 203.3 L78.5 202.0 L83.0 202.5 L84.3 199.7 L83.5 195.5 L85.7 192.5 L87.0 192.0 M40.7 228.0 L45.7 226.0 L51.5 224.0 L57.0 222.5 L63.0 222.3 L67.0 223.3 L71.5 224.3 L75.7 222.5 L79.3 220.5 L81.0 220.5 L80.7 223.3 L79.3 224.0" fill="none" stroke="#0a0aff" stroke-width="0.8" stroke-linejoin="round"/>
<path d="M33.0 195.5 L37.0 196.0 L42.0 195.5 M45.7 202.5 L48.0 201.5 L50.0 203.3 M81.0 186.0 L83.0 183.5 L85.0 185.0" fill="none" stroke="#101060" stroke-width="1.3"/>
<path d="M0.0 14.5 L3.0 12.5 L8.0 10.5 L12.0 9.5 L17.0 9.0 L19.0 7.5 L22.0 8.0 L25.0 7.0 L27.0 8.0 L27.0 5.0 L29.0 2.0 L30.0 0.0 M63.0 0.0 L62.0 3.0 L60.0 5.0 L57.0 7.5 L53.0 9.0 L48.0 11.5 L43.0 13.5 L42.0 14.5 L44.0 15.0 L46.0 16.5 L49.0 16.0 L52.0 15.5 L55.0 15.5 L58.0 16.5 L60.0 17.5 L64.0 17.5 L67.0 19.0 L70.0 20.0 L73.0 20.0 L76.0 19.0 L79.0 18.0 L82.0 17.0 L85.0 15.5 L87.0 14.5 L84.0 17.0 L80.0 19.5 L78.0 22.5 L74.0 23.0 L70.0 23.0 L65.0 23.5 L60.0 24.0 L58.0 26.0 L55.0 27.0 L54.0 30.0 L50.0 32.5 L47.0 34.5 L43.0 37.5 L40.0 38.5 L37.0 39.5 L36.0 41.0 L38.0 42.0 L41.0 41.0 L44.0 42.5 L46.0 40.0 L49.0 38.0 L53.0 37.0 L57.0 36.5 L60.0 36.0 L62.0 37.0 L65.0 38.0 L67.0 38.5 L69.0 36.0 L70.0 32.5 L73.0 31.5 L77.0 31.0 L80.0 30.5 L83.0 31.5 L86.0 32.5 L90.0 32.0 L94.0 31.5 L98.0 30.5 L102.0 29.0 L106.0 29.5 L110.0 30.0 L116.0 30.5 L122.0 30.0 L128.0 29.0 L134.0 27.5 L138.0 26.5 L142.0 25.0 L144.5 23.0 L144.0 21.0 L141.0 20.5 L137.0 21.0 L133.0 20.5 L130.0 19.5 L133.0 18.5 L136.0 17.0 L134.0 16.0 L137.0 14.5 L140.0 13.5 L142.0 11.5 L144.0 13.0 L147.0 11.0 L149.0 8.0 L150.0 4.0 L149.5 0.0 M101.0 29.5 L104.0 28.3 L108.0 29.0 L110.0 30.5 L106.0 31.8 L102.0 31.0 L101.0 29.5 M101.8 62.0 L100.5 61.3 L99.9 58.0 L98.6 54.3 L96.0 51.0 L94.8 48.0 L93.5 46.0 L97.0 45.8 L101.0 46.2 L104.3 46.0 L105.0 48.6 L107.5 50.5 L113.2 51.1 L118.3 52.0 L122.7 51.8 L124.6 50.5 L124.4 48.0 L126.5 46.0 L131.0 44.2 L136.0 42.9 L141.1 41.6 L145.0 39.7 L146.9 37.8 L146.5 34.0 L147.0 30.5 L149.0 27.0 L153.4 25.9 L159.0 24.2 L164.6 22.6 L170.1 20.9 L175.1 19.2 L176.2 17.6 L179.0 15.9 L182.3 14.2 L183.4 12.0 L186.0 10.0 L189.0 7.0 L192.0 3.0 L193.0 0.0 M177.0 17.0 L180.0 14.5 L183.0 13.5 L185.0 15.0 L186.0 18.0 L184.0 20.5 L181.0 19.0 L178.0 19.5 L177.0 17.0 M179.0 16.0 L183.0 16.5 L185.0 19.0 M199.0 3.0 L202.0 1.0 L206.0 1.5 L211.0 2.0 L211.0 4.0 L207.0 6.0 L203.0 7.0 L200.0 5.5 L199.0 3.0 M101.8 62.0 L100.7 62.3 L97.3 61.8 L94.6 61.2 L92.3 62.3 L89.6 61.8 L86.2 62.3 L82.9 64.0 L80.7 62.3 L77.9 60.1 L75.7 58.7 L72.3 59.0 L68.4 60.1 L64.0 61.8 L58.0 62.5 L54.0 63.0 L51.0 64.5 L50.5 66.0 L53.0 67.0 L57.0 66.5 L59.0 68.0 L55.0 69.0 L52.0 70.0 L51.0 71.5 L54.0 71.5 L57.0 72.5 L58.0 74.5 L61.0 75.0 L63.0 73.5 L64.0 74.6 L67.3 75.1 L70.7 76.2 L74.0 76.8 L75.7 77.9 L78.4 77.3 L81.8 77.9 L84.6 79.6 L86.2 81.2 L85.7 82.9 L87.9 83.4 L90.1 82.9 L92.9 82.3 L95.7 83.4 L97.3 84.0 L95.7 84.4 L90.1 83.6 L89.0 85.7 L90.1 87.3 L91.8 86.8 L90.7 88.4 L92.9 91.2 L95.1 93.4 L97.3 95.7 L100.5 96.7 L103.0 98.0 L105.6 98.6 L105.0 100.5 L103.0 101.8 L105.6 105.0 L107.5 107.5 L109.4 109.4 L111.3 112.6 L113.2 115.7 L114.5 117.7 M73.4 81.4 L75.0 81.0 L76.8 81.8 L75.2 82.5 L73.4 81.4 M100.1 98.2 L102.5 97.9 L105.7 99.0 L103.0 99.7 L100.1 98.2 M99.0 101.0 L101.0 100.8 L103.0 102.5 L101.0 102.3 L99.0 101.0 M102.5 105.5 L104.5 106.0 L106.0 109.0 L104.0 107.5 L102.5 105.5 M114.5 118.0 L110.0 113.0 L106.5 109.5 L105.5 113.0 L105.0 116.0 L104.5 120.0 L104.0 124.0 L103.5 128.0 L103.0 132.0 L102.0 136.0 L100.0 139.5 L97.0 142.0 L93.0 143.0 L88.0 143.5 L84.0 142.0 L80.0 142.0 L76.0 142.0 L72.0 141.0 L68.0 140.0 L63.0 141.0 L58.0 141.5 L53.0 141.5 L48.0 141.0 L43.0 140.0 L38.0 139.5 L34.0 138.0 L30.0 138.5 L25.0 139.0 L20.0 139.0 L16.0 139.5 L12.0 138.0 L8.0 136.0 L4.0 136.5 L0.0 137.0 M104.3 121.5 L106.0 121.0 L106.5 122.5 L104.3 122.8 M110.5 228.0 L111.0 227.0 L112.0 224.0 L113.5 221.0 L115.0 218.3 L118.0 216.0 L121.5 214.7 L125.0 213.3 L126.5 211.5 L124.5 210.5 L121.5 209.0 L119.7 206.0 L118.3 202.5 L118.3 199.7 L119.7 197.0 L122.3 194.0 L125.0 191.0 L128.0 188.3 L131.0 185.5 L133.7 183.3 L135.0 180.5 L138.0 178.0 L142.3 176.0 L148.0 174.7 L153.7 174.0 L157.0 172.5 L161.0 171.0 L165.0 169.0 L169.0 167.0 L170.5 164.0 L171.0 161.0 L172.5 159.0 L171.5 157.5 L170.0 155.0 L169.5 152.0 L170.0 148.0 L172.0 145.0 L175.0 143.5 L178.0 142.5 L180.0 140.5 L184.0 139.0 L188.0 140.0 L191.0 141.5 L194.0 142.5 L198.0 142.0 L202.0 142.5 L205.0 144.0 L209.0 145.5 L213.0 146.5 L217.0 147.0 L221.0 146.5 L223.0 144.0 L226.0 142.0 L230.0 139.5 L234.0 137.5 L238.0 136.0 L242.0 135.0 L246.0 133.5 L249.0 130.0 L252.0 127.5 L256.0 126.0 L260.0 126.5 L264.0 128.0 L268.3 129.5 L272.5 131.0 L277.0 133.0 L278.3 137.5 L280.5 141.7 L282.0 146.0 L282.5 148.0 L285.5 149.5 L288.3 151.7 L291.0 154.5 L294.7 156.7 L298.3 158.0 L301.0 160.3 L304.0 163.0 L307.5 166.0 L311.0 169.0 L315.5 171.0 L319.7 173.0 L324.0 174.0 L325.5 174.0 L329.7 175.5 L332.5 177.5 L334.7 180.5 L338.3 181.0 L342.0 182.0 L344.7 183.3 L347.5 185.5 L349.7 188.3 L352.0 190.0 M352.0 163.5 L347.0 161.0 L342.5 159.0 L338.3 156.7 L334.7 153.0 L332.5 149.0 L331.0 144.5 L329.0 141.0 L325.5 137.5 L321.0 134.5 L317.0 132.5 L312.5 130.3 L309.7 127.5 L308.5 123.0 L308.7 119.5 L311.7 117.8 L309.5 116.0 L307.3 113.4 L308.2 110.8 L312.5 109.0 L316.5 107.7 L320.0 106.4 L322.1 105.1 L325.2 106.0 L327.8 105.1 L330.0 106.4 L329.6 108.6 L327.8 109.9 L328.3 112.5 L329.6 115.2 L330.9 117.8 L332.6 119.5 L334.4 120.0 L335.7 117.8 L337.0 115.6 L338.3 113.4 L340.0 112.1 L342.2 112.5 L344.4 114.3 L346.6 116.0 L348.3 117.8 L349.2 120.4 L350.5 123.0 L351.4 125.2 M338.7 113.8 L340.9 116.5 L340.5 119.5 L341.8 121.7 L340.9 124.3 L338.7 123.5 L339.6 120.8 L338.7 113.8 M342.7 114.7 L345.3 117.8 L347.5 120.8 L349.2 123.9 L351.0 127.0 L351.4 128.7 L349.2 127.8 L347.0 125.2 L345.3 122.6 L343.5 120.0 L341.8 117.8 L342.7 114.7 M344.4 126.1 L346.6 127.8 L349.7 130.4 L351.4 131.8 L348.8 130.9 L346.2 129.1 L344.0 127.4 L344.4 126.1 M264.5 147.1 L265.4 147.1 L266.4 148.5 L266.1 151.4 L266.9 154.2 L267.6 158.0 L266.9 161.9 L265.4 165.2 L264.5 168.5 L263.0 171.4 L262.1 172.3 L259.7 170.9 L257.3 169.5 L255.9 167.6 L254.9 165.2 L254.0 162.8 L253.0 160.4 L252.6 157.6 L253.5 155.2 L255.4 153.8 L258.3 152.3 L261.1 151.4 L263.5 150.9 L264.0 148.5 L264.5 147.1 M262.3 172.3 L264.7 174.2 L267.1 176.6 L269.5 179.0 L270.9 181.9 L271.9 185.2 L270.4 188.0 L268.5 190.4 L270.0 192.3 L270.0 196.6 L269.5 200.4 L268.5 203.8 L267.1 205.7 L264.7 205.7 L262.8 204.7 L261.4 205.7 L259.5 205.2 L259.0 208.0 L256.6 210.0 L253.3 210.0 L251.4 208.0 L250.4 206.6 L249.0 205.7 L249.5 203.3 L250.9 201.4 L250.4 198.5 L251.9 196.1 L250.0 194.2 L250.9 191.4 L250.4 188.5 L248.5 186.1 L247.6 183.3 L246.1 180.9 L246.6 178.0 L249.0 176.1 L247.1 178.0 L248.0 180.0 L251.4 180.0 L254.7 178.5 L258.0 176.1 L260.9 173.8 L262.3 172.3 M311.8 228.0 L311.8 223.0 L320.0 222.8 L330.0 222.8 L340.0 222.6 L346.8 222.5 L349.7 220.3 L348.3 217.0 L346.0 214.7 L343.3 214.7 M158.0 199.5 L162.3 197.0 L166.5 194.7 L170.0 193.3 L171.5 195.5 L174.5 196.0 L175.5 198.3 L173.7 201.0 L171.0 203.3 L168.0 204.7 L166.0 202.5 L163.7 200.5 L160.0 201.0 L158.0 199.5 M180.3 192.5 L184.0 192.0 L187.5 192.5 L189.0 194.7 L186.0 195.5 L182.5 194.3 L180.3 192.5 M142.0 209.5 L143.5 207.0 L146.5 206.3 L147.5 207.8 L145.5 210.0 L143.0 210.5 L142.0 209.5 M275.5 150.5 L278.0 150.0 L281.0 150.5 L280.0 152.0 L277.0 151.8 L275.5 150.5 M287.1 104.2 L287.8 105.4 L284.6 109.9 L282.7 109.2 L284.6 106.7 L287.1 104.2 M302.2 153.5 L303.3 152.4 L304.5 153.5 L303.3 154.7 L302.2 153.5 M219.0 96.5 L221.0 95.0 L224.0 94.5 L227.0 95.5 M259.0 75.5 L262.0 75.0 L265.0 76.5 L268.0 79.0 M256.0 99.7 L253.5 103.5 L252.9 105.4 M227.5 105.0 L230.0 104.0 L233.0 104.5" fill="none" stroke="#000" stroke-width="0.75" stroke-linejoin="round"/>
<path d="M53.0 67.0 L57.0 66.8 L58.5 68.0 L55.0 69.0 M73.0 77.0 L75.0 78.5 M78.4 77.5 L81.8 78.0 M84.6 79.6 L86.2 81.2 M176.0 18.0 L179.0 16.5 L182.0 17.5 L185.0 16.0 L187.0 18.5 M177.0 19.5 L180.0 18.5 L183.0 19.5 L186.0 20.5 M181.0 14.5 L183.0 15.5 L185.5 14.5 M308.2 110.5 L312.5 109.2 M262.1 172.3 L264.7 174.2 L267.1 176.6 L269.2 179.0 L270.3 181.5 M275.4 150.8 L278.0 150.3 L280.7 151.2" fill="none" stroke="#000" stroke-width="1.1"/>
<g fill="#111"><circle cx="27" cy="42.5" r="0.7"/><circle cx="84" cy="50" r="0.7"/><circle cx="86.5" cy="49.5" r="0.7"/><circle cx="90.7" cy="53.3" r="0.7"/><circle cx="91.3" cy="53.6" r="0.7"/><circle cx="46" cy="64.5" r="0.7"/><circle cx="76" cy="82" r="0.7"/><circle cx="87.5" cy="91" r="0.7"/><circle cx="91" cy="90" r="0.7"/><circle cx="145" cy="213" r="0.7"/><circle cx="311" cy="5.5" r="0.7"/><circle cx="318" cy="5.5" r="0.7"/><circle cx="322" cy="4.5" r="0.7"/><circle cx="329.5" cy="5" r="0.7"/><circle cx="338" cy="10.5" r="0.7"/><circle cx="340" cy="17" r="0.7"/><circle cx="271" cy="146.5" r="0.7"/><circle cx="287.5" cy="157.5" r="0.7"/><circle cx="290.5" cy="157.5" r="0.7"/><circle cx="278" cy="157.5" r="0.7"/><circle cx="272.5" cy="141" r="0.7"/><circle cx="319.5" cy="179" r="0.7"/><circle cx="322" cy="212.3" r="0.7"/></g>
</svg>
<text class="a" x="321.8" y="254.6" textLength="167.2" lengthAdjust="spacing">from grib files provided by ECMWF</text>
<text class="a" x="380.8" y="273.7" textLength="107.8" lengthAdjust="spacing">©2025 sb@irizone.net</text>
<rect x="141.1" y="49.1" width="352.0" height="228.4" fill="none" stroke="#000" stroke-width="0.8"/>
<!-- panel 2 -->
<text class="t" x="15.5" y="292.0" textLength="604.6" lengthAdjust="spacing" xml:space="preserve">IFS - Probas T850  standardized ano &gt; than 1.5 σ, Init: 20251201 00z - Valid: 20251207:00 TU</text>
<rect x="158.50" y="304.3" width="35.24" height="7.4" fill="#ffff00" stroke="#000" stroke-width="0.8"/>
<rect x="193.74" y="304.3" width="35.24" height="7.4" fill="#ffd700" stroke="#000" stroke-width="0.8"/>
<rect x="228.99" y="304.3" width="35.24" height="7.4" fill="#ffb400" stroke="#000" stroke-width="0.8"/>
<rect x="264.23" y="304.3" width="35.24" height="7.4" fill="#ff8c00" stroke="#000" stroke-width="0.8"/>
<rect x="299.48" y="304.3" width="35.24" height="7.4" fill="#ff5f00" stroke="#000" stroke-width="0.8"/>
<rect x="334.72" y="304.3" width="35.24" height="7.4" fill="#ff1e00" stroke="#000" stroke-width="0.8"/>
<rect x="369.97" y="304.3" width="35.24" height="7.4" fill="#dc0000" stroke="#000" stroke-width="0.8"/>
<rect x="405.21" y="304.3" width="35.24" height="7.4" fill="#a00000" stroke="#000" stroke-width="0.8"/>
<rect x="440.46" y="304.3" width="35.24" height="7.4" fill="#640000" stroke="#000" stroke-width="0.8"/>
<text class="l" x="158.5" y="300.1" text-anchor="middle">10</text>
<text class="l" x="193.7" y="300.1" text-anchor="middle">25</text>
<text class="l" x="229.0" y="300.1" text-anchor="middle">40</text>
<text class="l" x="264.2" y="300.1" text-anchor="middle">50</text>
<text class="l" x="299.5" y="300.1" text-anchor="middle">60</text>
<text class="l" x="334.7" y="300.1" text-anchor="middle">70</text>
<text class="l" x="370.0" y="300.1" text-anchor="middle">80</text>
<text class="l" x="405.2" y="300.1" text-anchor="middle">90</text>
<text class="l" x="440.5" y="300.1" text-anchor="middle">95</text>
<text class="l" x="475.7" y="300.1" text-anchor="middle">100</text>
<svg x="141.1" y="317.5" width="352.0" height="228.4" viewBox="0 0 352.0 228.4" overflow="hidden">
<path d="M345.9 0.0 L352.0 0.0 L352.0 7.0 L349.0 6.5 L346.4 4.0Z M339.8 26.2 L343.0 25.8 L347.4 26.4 L346.0 27.6 L341.0 27.4Z M321.0 56.5 L323.5 55.7 L327.0 56.3 L328.6 58.5 L325.0 59.5 L322.0 59.0Z M109.2 202.8 L111.1 200.4 L113.5 197.5 L115.0 199.9 L115.9 204.2 L115.0 207.5 L112.1 209.0 L109.2 208.5Z M113.0 214.7 L116.9 213.3 L118.8 215.2 L116.4 216.1Z M233.9 140.9 L235.2 140.6 L235.6 141.8 L234.3 142.2Z" fill="#ffff00"/>
<path d="M187.9 21.4 L192.3 19.8 L196.8 19.2 L201.2 20.9 L205.7 22.6 L210.1 24.2 L213.4 27.0 L212.9 30.3 M160.1 24.2 L161.2 27.6 L164.6 30.3 L167.9 32.0 L171.2 33.7 L172.9 32.0 M171.8 41.4 L176.8 41.8 L182.3 42.0 L187.9 42.2 L192.9 42.0 M195.7 45.3 L201.2 47.6 L206.8 48.7 L211.2 50.3 L215.7 49.8 L219.0 49.2 M175.1 34.8 L179.6 35.9 L184.6 37.0 L186.2 39.8 L185.7 42.0 M149.0 35.9 L153.4 37.0 L159.0 38.7 L164.6 39.8 L169.0 39.8 L171.2 39.8 M155.7 27.0 L159.0 30.3 L163.4 33.1 L166.8 35.9 L169.0 39.8 M149.0 45.3 L154.6 46.4 L160.1 47.6 L165.7 47.0 L169.6 45.3 L170.7 42.0 M169.6 45.3 L174.6 44.2 L180.1 44.8 L184.6 45.3 L186.2 42.0 M149.0 52.0 L153.4 51.4 L159.0 50.9 L164.6 52.0 L169.6 53.7 L169.6 45.3 M184.6 45.3 L185.7 49.8 L182.3 53.1 L179.0 52.0 L174.6 51.4 L169.6 53.7 M185.7 49.8 L191.2 50.3 L196.8 50.9 L200.1 50.3 M209.6 29.8 L213.4 33.1 L216.8 35.9 L219.0 37.6 M211.2 40.3 L214.6 38.1 L219.0 37.0 M209.6 44.2 L211.2 40.3 M209.6 44.2 L212.9 46.4 L215.7 49.8 M211.2 50.3 L210.7 54.2 L211.2 59.0 M203.4 48.7 L202.3 52.6 M229.6 1.7 L226.2 2.2 L224.6 3.9 L228.4 5.0 L229.6 7.2 L226.2 9.4 L224.6 11.7 L221.8 13.3 L218.4 13.9 M214.0 23.9 L215.7 26.7 L215.1 30.6 L217.9 33.3 L219.0 36.7 L216.2 39.4 L215.7 42.8 L218.4 45.0 L221.8 46.1 L227.0 50.0 L232.0 51.0 L238.0 51.5 L244.0 53.0 L248.0 56.0 M338.0 27.0 L330.0 30.0 L322.0 32.0 L314.0 35.0 L308.0 37.5 L306.0 38.0 L308.0 40.0 L311.0 43.0 L312.0 47.0 L315.0 50.0 L319.0 53.0 L323.0 56.0 L328.0 58.0 L333.0 60.0 L336.0 61.0 M338.0 27.0 L342.0 28.0 L346.0 29.0 L350.0 26.0 L349.0 21.0 L347.0 18.0 L345.0 14.0 L346.0 11.0 M268.0 79.0 L272.0 80.0 L277.0 81.0 L280.0 79.0 L284.0 79.5 L288.0 81.0 L293.0 80.0 L298.0 78.5 L303.0 77.0 L307.0 76.0 L311.0 72.0 L314.0 69.0 L318.0 71.0 L320.0 74.0 L319.0 78.0 L316.0 77.0 M264.0 90.0 L268.0 93.0 L271.0 93.0 L275.0 91.0 L280.0 89.0 L286.0 88.0 L292.0 87.0 L298.0 86.5 L304.0 86.0 L307.0 87.0 L309.0 90.0 L314.0 92.0 L319.0 93.0 L324.0 93.5 L328.0 95.0 L326.0 98.0 L327.0 102.0 L329.0 105.0 M271.0 93.0 L273.0 97.0 L276.0 98.0 M328.0 95.0 L333.0 94.5 L339.0 95.5 L345.0 95.0 L352.0 94.0 M330.0 107.0 L334.0 108.5 L338.3 109.5 L342.7 108.2 L347.0 109.5 L351.4 110.0 M240.0 78.5 L236.0 81.0 L232.0 84.0 L228.0 88.0 L224.0 92.0 L221.0 97.0 L223.0 101.0 L227.0 104.0 M233.0 107.0 L237.0 110.0 L242.0 112.0 L247.0 110.0 L250.0 107.0 L253.0 104.0 L256.7 101.6 L259.2 104.2 L261.7 100.3 L264.9 96.5 L268.1 95.3 L273.2 96.5 L275.7 98.4 M230.0 132.1 L235.1 130.8 L238.9 130.2 L237.6 133.4 L235.1 135.3 M233.0 107.0 L231.0 111.0 L234.0 115.0 L232.0 119.0 L236.0 122.0 L235.0 126.0 L238.0 129.0 L243.0 130.0 L248.0 130.0 M98.7 141.7 L102.0 144.5 L106.5 146.7 L111.0 149.0 L116.5 150.3 L123.5 151.7 L131.0 152.5 L138.0 154.0 L145.0 154.5 L151.0 155.3 L156.5 156.7 L162.0 157.5 L168.0 156.7 L171.5 157.5 M0.0 165.0 L5.0 164.5 L9.0 165.5 L13.0 163.5 L18.0 163.5 L23.0 164.0 L24.0 167.0 L27.0 169.0 L30.0 170.0 M19.3 177.5 L20.0 182.5 L19.3 187.0 L17.0 189.7 L18.5 192.5 L18.0 196.0 M9.3 198.3 L12.0 201.0 L14.3 204.7 L17.0 207.5 L18.0 209.0 M13.0 215.5 L14.3 219.7 L18.0 220.5 L15.7 224.0 L13.0 228.0 M255.4 157.1 L259.2 159.0 L262.1 162.8 L263.5 165.2 M128.4 56.2 L132.3 58.8 L134.8 61.3 L139.9 62.0 L145.0 61.3 L147.5 58.1 L146.9 54.3 L148.8 50.5 L148.1 46.7 L147.5 42.9 L146.9 38.4 M220.0 47.3 L225.0 51.8 L230.1 54.3 L235.2 56.2 L239.0 56.9 M119.6 98.0 L120.8 101.8 L117.7 105.0 L115.7 108.1 L111.3 109.4 M120.8 101.8 L125.9 103.0 L131.0 103.7 L134.8 105.6 L132.9 108.8 L128.4 111.3 L124.6 113.2 L122.0 115.1 L125.9 118.3 M134.8 105.6 L139.9 108.1 L145.0 109.4 L143.0 113.8 L143.7 118.3 M145.0 109.4 L150.0 108.1 L155.1 109.4 L160.2 108.1 M110.7 125.9 L115.7 124.6 L119.6 127.2 L117.7 130.4 L120.8 132.9 L124.6 131.6 L128.4 132.9 L132.3 129.7 M136.0 122.0 L138.6 125.9 L137.3 131.0 M143.7 118.3 L147.5 122.0 L152.6 123.4 L155.1 120.8 L160.2 122.0 L164.0 121.5 M147.5 122.0 L148.8 127.2 L152.6 129.0 L151.3 134.2 M119.6 133.5 L122.0 137.0 M175.5 101.8 L180.6 103.0 L185.7 102.4 L189.5 104.3 L194.6 104.3 M174.2 112.6 L179.3 111.3 L184.4 113.2 L189.5 112.0 L195.2 113.2 M184.4 113.2 L185.7 118.3 L183.1 122.0 L185.7 127.2 L190.7 128.4 L193.9 127.2 M159.0 101.8 L164.0 99.2 L169.2 100.5 L172.3 105.0 M159.0 120.8 L164.0 118.3 L169.2 120.8 L174.2 118.3 L177.4 116.4 M197.1 113.2 L202.2 115.7 L207.3 118.3 L209.8 122.0 L207.3 125.9 L206.0 129.7 L209.8 132.3 L211.7 131.6 M207.9 107.5 L212.3 110.7 L217.4 109.4 L222.5 111.3 L227.6 109.4 L230.1 113.2 L227.6 117.0 L224.4 118.3 M212.3 110.7 L214.9 115.7 L218.7 118.3 L222.5 117.7 M207.3 118.3 L212.3 120.8 L216.1 126.5 M230.1 99.2 L233.9 103.0 L239.0 104.3 M159.0 127.2 L164.0 125.9 L169.2 127.2 L171.7 131.0 L176.8 132.3 L181.9 131.0 L184.4 133.5 L189.5 134.8 L192.0 137.0 M99.9 139.2 L105.6 139.8 L112.0 139.2 L118.3 139.8 L122.0 138.5 L127.2 140.4 L132.3 141.7 L137.3 141.0 L142.4 141.7 M122.0 138.5 L121.5 143.0 L119.6 146.8 M119.6 134.0 L124.6 132.8 L129.7 134.0 L134.8 132.8 L138.6 135.3 M147.5 143.6 L152.6 141.7 L157.7 143.0 L162.7 141.0 M147.5 148.0 L152.6 149.3 L157.7 148.0 L162.7 150.0 M119.6 129.0 L122.0 131.5 L119.6 134.0 M159.0 141.0 L164.0 138.5 L169.2 136.6 L174.2 134.7 L179.3 132.8 L184.4 134.0 L188.2 132.8 M169.2 149.3 L164.0 148.0 L159.0 149.3 M169.2 155.0 L164.0 156.3 L159.0 155.7 M209.2 136.6 L209.8 140.4 L209.2 144.2 M213.6 134.0 L218.7 136.0 L223.8 134.7 L228.2 132.8 L232.7 134.0 L236.5 132.2 M174.2 134.7 L175.5 139.2 L173.0 143.6 M223.0 122.0 L226.0 126.0 L224.0 130.0 L228.2 132.8 M197.0 120.0 L202.0 121.0 L206.0 125.9 M197.0 128.0 L201.0 130.0 L206.0 129.7 M68.4 62.3 L69.0 66.2 L67.3 69.6 L66.2 71.8 L69.6 72.9 L74.0 72.3 L78.4 70.7 L82.9 71.8 L87.9 71.2 L89.6 68.4 L92.3 66.2 L93.4 63.4 M69.0 66.2 L74.0 67.3 L78.4 66.8 L82.9 67.9 L87.3 67.3 L89.6 68.4 M87.9 71.2 L90.7 74.6 L92.3 77.9 L91.8 81.8 M92.3 77.9 L97.3 76.8 L101.8 75.7 L105.1 74.6 L104.6 70.7 L106.2 67.3 L105.7 64.0 M101.8 61.8 L105.7 64.0 L110.7 64.6 L116.2 64.0 L120.7 65.1 L126.2 64.6 L130.7 66.2 L134.0 67.3 M105.1 56.8 L108.4 59.6 L111.8 59.0 L116.2 58.4 L121.8 57.9 L126.2 56.8 L129.0 56.2 L129.6 54.0 M110.7 64.6 L111.8 60.7 L108.4 59.6 M105.1 74.6 L108.4 75.7 L112.9 75.1 L117.3 74.6 L121.8 75.7 L126.2 77.3 L130.7 76.8 L134.0 75.7 M120.7 65.1 L119.6 68.4 L117.9 71.8 L117.3 74.6 M105.1 74.6 L106.2 77.9 L105.1 81.2 M99.6 86.2 L102.9 85.7 L107.3 87.3 L111.8 86.2 L116.2 85.7 L119.6 86.2 L121.8 89.6 L122.3 92.9 L124.0 96.2 L126.2 98.4 M107.3 87.3 L108.4 90.7 L111.8 92.3 L112.9 96.2 L110.7 98.4 M112.9 96.2 L117.3 95.1 L121.8 92.9 M126.2 77.3 L125.7 80.7 L126.2 83.8 M129.0 58.4 L133.4 60.7 L136.8 64.0 L134.6 67.3 L131.2 68.4 L129.0 67.9 M136.8 64.0 L141.2 62.9 L145.7 61.8 L150.1 60.7 L152.9 58.4 L155.7 57.9 M134.6 67.3 L139.0 70.7 L143.4 72.3 L147.9 71.2 L152.3 69.6 L152.9 66.2 L150.1 60.7 M152.9 66.2 L156.8 65.1 L160.1 65.7 L161.2 63.4 M152.3 69.6 L156.8 70.7 L161.2 69.6 L165.7 70.7 L169.0 69.6 L170.7 66.8 M165.7 70.7 L167.9 74.0 L166.8 77.9 M167.9 74.0 L172.3 75.7 L175.7 74.0 M129.0 74.6 L133.4 75.7 L137.9 74.6 L141.2 76.2 L143.4 77.3 M139.0 80.1 L140.1 84.0 L143.4 86.2 L142.3 89.6 L139.0 91.8 L135.7 90.7 L131.8 90.7 M143.4 86.2 L147.9 85.1 L152.3 84.0 L155.7 81.8 L155.1 77.9 L155.7 74.0 M155.7 81.8 L160.1 82.9 L164.6 81.8 L167.3 81.2 M152.3 84.0 L154.6 87.3 L154.0 91.8 L155.7 95.1 L154.0 98.4 L154.6 101.0 M142.3 89.6 L145.7 92.9 L150.1 94.0 L154.0 91.8 M155.7 95.1 L160.1 94.0 L164.6 92.9 L168.4 90.7 L169.0 89.0 M139.0 91.8 L140.1 96.2 L143.4 98.4 L147.9 97.3 L150.1 94.0 M173.4 95.1 L177.9 93.4 L182.3 92.3 L184.6 89.6 L183.4 86.2 M182.3 92.3 L184.6 96.2 L189.0 97.3 L193.4 96.2 L196.8 95.1 M177.9 77.3 L182.3 78.4 L185.7 80.7 L184.6 84.0 L182.9 86.2 M185.7 80.7 L190.1 81.8 L194.6 80.7 L199.0 81.8 M173.4 64.6 L175.7 68.4 L179.0 70.7 L182.3 69.6 L184.6 67.3 M179.0 70.7 L181.2 74.6 L184.6 76.2 L187.9 75.1 L191.2 74.6 M177.9 55.3 L176.8 59.6 L177.9 63.4 M190.1 59.6 L192.3 65.1 L195.7 68.4 L199.0 69.6 M191.2 74.6 L195.7 73.4 L199.0 74.0 M194.0 57.3 L197.9 59.0 L200.7 57.3 L204.6 59.0 L207.9 60.7 M197.9 59.0 L197.3 62.9 M207.9 68.4 L211.8 69.6 L216.2 70.7 L220.7 71.8 L223.4 71.2 M209.0 64.6 L212.9 65.1 L215.7 63.4 M218.4 58.4 L222.9 60.1 L227.3 61.2 L230.7 64.0 L231.8 67.3 L235.1 68.4 L237.9 70.7 M230.7 64.0 L234.0 62.9 L237.3 60.7 L240.7 59.0 L244.6 57.3 M227.3 54.0 L230.7 55.7 L235.1 56.2 L239.6 55.7 M231.8 67.3 L229.6 70.7 L227.3 74.0 L226.2 77.3 L227.3 80.1 M226.2 77.3 L230.7 77.9 L234.0 80.7 L236.8 79.0 M204.0 74.6 L207.3 76.2 L211.8 75.7 L216.2 76.8 L220.7 75.7 L226.2 77.3 M216.2 76.8 L215.1 80.7 L216.2 82.3 M204.6 74.6 L205.1 78.4 L208.4 81.8 L206.2 85.7 M194.0 74.0 L198.4 76.2 L202.9 77.3 L205.1 78.4 M196.2 92.3 L200.7 91.8 L205.1 90.7 L209.6 92.3 L212.9 90.7 L215.7 92.3 M205.1 90.7 L204.0 95.1 L206.2 98.4 L210.7 101.0 M209.6 85.7 L211.8 87.3 L215.1 86.2 L217.9 89.6 M237.3 79.0 L234.0 81.2 L230.7 82.9 L227.3 85.1 L224.0 87.3 L221.8 90.7 L219.6 94.0 M239.6 78.4 L242.9 80.1 L247.3 79.0 L251.8 77.9 L256.2 78.4" fill="none" stroke="#808080" stroke-width="0.45"/>
<path d="M67.0 2.5 L70.0 4.5 L73.0 3.5 L75.0 1.5 L77.0 0.0 M82.0 1.0 L86.0 5.0 L88.0 9.0 L90.0 10.7 L89.0 13.0 L87.5 14.5 M93.0 14.3 L96.0 16.0 L100.0 15.5 L103.0 14.5 L105.0 16.5 L108.0 18.5 L111.0 18.0 L114.0 19.5 L118.0 20.0 L122.0 19.5 L126.0 19.0 L130.0 19.5 M125.0 49.5 L129.0 49.0 L133.0 49.5 L136.0 51.0 L139.0 52.5 L142.0 54.5 L146.0 56.0 L150.0 57.0 L154.0 58.0 L158.0 58.5 L162.0 58.5 L160.0 61.0 L163.0 63.5 L167.0 65.5 L171.0 66.5 L175.0 65.5 L178.0 64.5 L176.0 62.5 L180.0 63.5 L184.0 66.0 L188.0 69.0 L191.0 72.0 L193.0 76.0 L194.0 79.0 M162.0 58.5 L166.0 57.5 L170.0 56.5 L174.0 55.5 L178.0 55.0 L180.0 54.5 L185.0 56.0 L189.0 59.0 L192.0 61.0 L196.0 62.5 L199.0 65.0 L201.0 69.0 L203.0 72.0 L204.0 74.0 M171.0 66.5 L173.0 70.0 L175.0 74.0 L177.0 78.0 L178.0 80.0 L181.0 83.0 L183.0 86.0 M178.0 27.5 L175.0 29.5 L174.0 32.0 L176.0 34.0 L174.0 36.5 L172.0 38.5 L171.0 41.0 L173.0 41.5 M176.0 30.0 L180.0 28.0 L184.0 26.0 L188.0 24.0 L189.0 22.0 L186.0 20.0 M184.0 12.5 L190.0 13.0 L196.0 13.5 L202.0 13.0 L208.0 12.5 L213.0 12.5 L216.0 10.0 L216.5 6.0 L214.0 3.0 L211.0 2.0 M213.0 12.5 L218.0 14.0 L222.0 17.0 L224.0 21.0 L227.0 25.0 L230.0 29.0 L233.0 33.0 L236.0 36.0 L238.0 38.0 L240.0 40.0 L243.0 42.0 L247.0 42.0 L249.0 42.0 L250.0 46.0 L251.0 50.0 L250.0 54.0 L248.0 57.0 L246.0 58.0 L243.0 62.0 L240.0 66.0 L238.0 70.0 L237.0 74.0 L238.0 77.0 L240.0 78.5 L245.0 78.0 L250.0 77.5 L255.0 77.0 L259.0 75.5 M249.0 42.0 L254.0 40.5 L258.0 40.0 L261.0 42.0 L263.0 45.0 L264.0 45.0 L267.0 43.0 L270.0 42.5 L273.0 45.0 L275.0 46.0 L277.0 43.0 L280.0 42.0 L284.0 43.0 L288.0 41.0 L291.0 39.0 L294.0 39.0 L297.0 41.0 L298.0 44.0 M184.0 14.0 L190.0 14.5 L196.0 14.0 L204.0 14.5 L210.0 15.0 L214.0 17.0 L216.0 20.0 L214.0 23.0 L211.0 26.0 L210.0 30.0 L206.0 32.0 L201.0 33.5 L197.0 35.0 L195.0 38.0 L194.0 42.0 L195.0 46.0 L198.0 49.0 L201.0 52.0 L204.0 55.0 L206.0 58.0 L208.0 61.0 L209.0 65.0 L208.0 69.0 L206.0 72.0 M237.0 37.0 L233.0 40.0 L229.0 43.0 L225.0 45.0 L221.0 47.0 L218.0 50.0 L216.0 54.0 L215.0 58.0 L214.0 61.0 L213.0 63.0 L216.0 66.0 L219.0 68.5 L222.0 70.5 L225.0 72.0 L227.0 72.5 M232.0 0.0 L234.0 5.0 L238.0 9.0 L243.0 11.0 L248.0 13.0 L252.0 14.0 L256.0 13.0 M263.0 0.0 L259.0 5.0 L257.0 8.0 L260.0 10.0 L264.0 10.0 L266.0 12.0 L265.0 15.0 L268.0 18.0 L271.0 21.0 L275.0 24.0 L279.0 25.5 L276.0 27.0 L274.0 29.0 L277.0 31.0 L280.0 33.0 L284.0 35.0 L288.0 35.0 M304.7 0.0 L302.0 4.0 L299.0 8.0 L301.0 11.5 L306.0 13.5 L311.0 13.5 L316.0 14.5 L320.0 18.0 L324.0 21.0 L328.0 24.0 L332.0 26.0 L336.0 28.0 L338.0 29.0 L336.0 32.0 L336.0 34.0 L340.0 37.0 L344.0 39.0 L348.0 39.5 L352.0 39.5 M338.0 29.0 L340.0 31.0 L339.0 35.0 L341.0 39.0 L340.0 43.0 L338.0 47.0 L339.0 51.0 L341.0 55.0 L342.0 60.0 M341.0 0.0 L344.0 2.0 L343.0 6.0 L346.0 8.0 L346.0 10.5 L352.0 10.5 M344.0 2.5 L352.0 2.0 M247.0 71.0 L251.0 72.5 L255.0 73.0 L259.0 72.0 L263.0 71.0 L268.0 68.0 L272.0 66.0 L277.0 64.0 L282.0 62.0 L287.0 61.0 L292.0 60.5 L297.0 60.0 L300.0 60.0 L303.0 58.0 L307.0 57.0 L311.0 58.0 L316.0 59.0 L321.0 61.0 L325.0 63.0 L328.0 64.0 L332.0 65.5 L337.0 67.0 L342.0 68.0 L347.0 69.0 L352.0 69.0 M316.0 59.0 L320.0 59.0 L325.0 58.0 L330.0 59.0 L334.0 60.0 L336.0 61.0 L340.0 62.0 L341.0 59.0 L342.0 58.0 M327.0 63.5 L324.0 66.0 L319.0 67.5 L314.0 69.0 L309.0 71.0 L307.0 74.0 L307.0 77.0 L304.0 79.0 L299.0 80.5 L294.0 82.0 L289.0 83.0 L285.0 84.5 L283.0 87.0 L281.0 90.0 L278.0 92.0 L274.0 94.0 L271.0 96.0 L269.0 98.0 M327.0 85.0 L332.0 84.5 L337.0 85.0 L342.0 84.0 L347.0 82.0 L352.0 81.0 M308.0 88.0 L313.0 89.0 L318.0 90.5 L323.0 90.0 L328.0 91.5 L333.0 93.0 L338.0 94.0 L343.0 94.0 L348.0 93.0 L352.0 93.0 M283.0 89.5 L287.0 90.0 L291.0 91.0 L293.5 94.0 L292.9 97.8 L291.0 102.9 L287.8 106.7 L285.2 109.9 L284.6 113.7 L284.6 117.5 M285.2 109.9 L289.7 110.5 L293.5 112.4 L297.3 114.3 L302.4 115.0 L307.5 115.0 L310.0 115.6 M268.0 79.0 L266.0 83.0 L266.0 87.0 L264.0 89.0 M97.3 84.0 L100.7 82.7 L105.1 81.2 L109.6 80.9 L114.0 80.4 L117.3 80.7 L120.7 82.0 L124.0 83.4 L126.2 83.8 L129.6 82.3 L131.0 82.5 L135.0 81.0 L139.0 80.0 L143.0 78.0 L146.0 76.0 L149.0 74.5 L152.0 73.5 L156.0 74.0 L160.0 75.0 L163.0 76.5 L166.0 79.0 L168.0 83.0 L169.0 87.0 L170.0 91.0 L172.0 94.0 L174.0 98.0 L174.0 102.0 L173.0 106.0 L172.0 110.0 L174.0 114.0 L176.0 116.0 L177.5 116.0 L180.3 119.5 L182.5 123.0 M130.0 83.0 L131.0 87.0 L132.0 91.0 L133.0 95.0 L133.0 99.0 L134.0 102.0 L137.0 104.0 L141.0 105.0 L145.0 105.5 L148.0 106.5 L151.0 107.0 M150.0 117.5 L153.0 115.0 L156.0 112.0 L159.0 109.5 L162.0 108.5 L164.0 108.0 M226.0 80.0 L222.0 81.0 L217.0 82.5 L212.0 84.0 L207.0 85.5 L202.0 87.5 L198.0 89.5 L196.0 91.5 L197.0 95.0 L196.0 99.0 L195.0 103.0 L196.0 107.0 L197.0 112.0 L195.3 116.0 L195.3 120.3 L194.0 124.5 L194.0 129.5 L195.3 132.5 L192.5 135.3 L190.3 138.0 L189.5 140.3 M192.5 135.3 L194.0 139.0 L194.5 141.7 M238.0 77.0 L233.9 80.3 L230.1 82.3 L228.2 81.6 L226.0 80.0 M231.0 81.5 L227.0 83.5 L223.0 86.0 L219.0 88.5 L216.0 91.5 L216.0 93.7 L213.0 97.0 L211.0 100.0 L209.0 104.0 L206.0 106.0 L203.0 105.0 L199.0 105.0 L196.0 104.0 M216.0 93.7 L219.0 96.5 L221.0 95.0 L224.0 94.5 L227.0 95.5 L230.0 98.0 L232.0 100.0 L236.0 99.0 L240.0 97.0 L244.0 95.5 L248.0 93.0 L252.0 91.5 L256.0 90.0 L260.0 89.0 L264.0 88.0 L267.0 89.0 M230.0 100.3 L235.1 99.1 L241.4 97.2 L246.5 95.3 L251.6 94.0 L256.0 94.6 L258.6 96.5 L259.8 99.1 L257.3 99.7 L254.8 102.3 L252.9 105.4 L253.5 108.6 L256.0 111.8 L259.2 114.3 L261.7 115.6 M227.5 105.5 L230.0 106.1 L235.1 105.4 L238.9 106.7 L242.1 109.9 L244.0 114.3 M270.6 94.0 L271.9 96.5 M195.3 132.5 L199.5 134.5 L204.5 136.7 L209.0 136.7 L211.0 134.5 L212.5 131.0 L213.0 127.5 L216.0 125.7 L220.0 124.5 L222.5 122.5 L223.0 119.0 L224.0 116.7 M176.0 126.7 L177.5 129.0 M312.5 118.0 L310.0 116.9 L304.9 116.9 L298.6 117.5 L293.5 116.2 L288.4 116.2 L284.6 117.5 L280.8 118.1 L277.0 116.9 L273.2 115.6 L269.4 116.2 L264.3 115.6 L260.5 116.2 L255.4 116.9 L251.6 115.6 L247.8 114.3 L244.0 114.3 L240.8 115.0 L238.9 118.1 L238.9 121.9 L236.3 124.5 L232.5 125.1 L230.0 124.5 L228.0 124.5 M304.7 136.7 L306.0 139.5 L309.0 142.5 L311.0 145.3 L310.5 149.0 L307.5 152.5 L309.7 155.3 L313.3 158.0 L314.0 160.3 L312.0 164.0 L309.0 166.0 M114.5 118.0 L116.0 120.3 L121.0 123.0 L126.0 126.7 L131.0 129.0 L136.0 130.3 L141.0 131.0 L143.0 135.0 L144.5 137.5 L146.5 143.0 L148.0 150.0 L151.0 154.0 L151.0 156.0 L145.0 157.5 L142.0 161.5 L136.5 164.5 L132.0 169.0 L128.0 172.5 M141.0 131.0 L145.0 134.5 L149.5 135.3 L156.5 134.0 L164.0 132.5 L169.5 130.3 L174.0 127.5 L178.0 126.7 M114.5 118.0 L121.0 119.0 L128.0 119.5 L135.0 119.0 L142.0 119.5 L148.0 119.0 L151.0 116.7 M144.5 139.5 L142.0 142.5 L138.0 145.3 L134.0 146.0 L131.5 146.7 L133.0 149.5 L135.0 151.7 L136.5 152.5 M58.0 147.5 L61.0 148.0 L63.0 150.0 L67.0 149.5 L71.0 150.5 L75.0 151.5 L79.0 153.0 L82.0 155.0 L86.0 156.0 L88.0 154.5 L92.0 156.0 L96.5 158.0 L101.0 161.0 L105.0 164.5 L109.5 167.5 L114.0 170.3 L118.0 172.5 L122.0 173.0 L126.0 171.7 L128.0 172.5 L129.5 174.5 L131.0 174.7 L132.3 176.0 L130.5 178.3 L131.0 180.5 L133.0 182.0 L134.5 182.3 M0.0 158.0 L4.0 156.5 L6.0 154.0 L7.0 150.0 L9.0 148.0 L8.0 145.0 L11.0 143.5 L13.0 144.5 M46.0 148.5 L45.0 151.0 L43.0 153.5 L40.0 156.0 L39.0 160.0 L38.0 164.0 L35.0 167.0 L32.0 170.0 L30.0 172.0 L27.0 173.0 L24.0 174.5 L23.0 174.0 L20.7 176.0 L18.0 177.5 L14.3 175.0 L8.5 175.5 L4.3 174.7 L0.0 176.0 M31.0 170.0 L36.0 171.0 L42.0 170.5 L48.0 169.0 L54.0 168.0 L60.0 168.0 L65.0 167.5 L70.0 168.5 L75.0 170.0 L80.0 170.5 L85.0 169.5 L87.0 167.0 L85.0 164.5 L81.0 163.5 L78.0 163.0 M0.0 200.5 L4.3 199.0 L8.5 197.5 L14.3 197.0 L20.0 196.5 L25.7 196.0 L30.7 195.0 L34.3 195.7 L41.5 195.5 L45.7 195.0 L50.0 193.0 L54.3 194.0 L57.0 195.5 L61.5 195.0 L67.0 193.3 L73.0 192.0 L77.0 189.7 L80.0 186.0 L83.0 183.3 L85.7 181.0 L88.0 181.0 L92.3 180.0 L96.0 181.0 L98.0 182.5 L98.0 184.7 M7.0 228.0 L6.5 224.0 L8.5 219.7 L10.7 215.5 L13.0 212.0 L15.7 210.0 L21.5 209.7 L27.0 209.0 L33.0 208.0 L38.5 207.0 L43.0 205.7 L45.7 202.5 L48.0 202.0 L50.0 203.3 L53.0 206.0 L57.0 208.3 L61.5 209.0 L63.0 207.0 L68.5 204.7 L74.3 203.3 L78.5 202.0 L83.0 202.5 L84.3 199.7 L83.5 195.5 L85.7 192.5 L87.0 192.0 M40.7 228.0 L45.7 226.0 L51.5 224.0 L57.0 222.5 L63.0 222.3 L67.0 223.3 L71.5 224.3 L75.7 222.5 L79.3 220.5 L81.0 220.5 L80.7 223.3 L79.3 224.0" fill="none" stroke="#0a0aff" stroke-width="0.8" stroke-linejoin="round"/>
<path d="M33.0 195.5 L37.0 196.0 L42.0 195.5 M45.7 202.5 L48.0 201.5 L50.0 203.3 M81.0 186.0 L83.0 183.5 L85.0 185.0" fill="none" stroke="#101060" stroke-width="1.3"/>
<path d="M0.0 14.5 L3.0 12.5 L8.0 10.5 L12.0 9.5 L17.0 9.0 L19.0 7.5 L22.0 8.0 L25.0 7.0 L27.0 8.0 L27.0 5.0 L29.0 2.0 L30.0 0.0 M63.0 0.0 L62.0 3.0 L60.0 5.0 L57.0 7.5 L53.0 9.0 L48.0 11.5 L43.0 13.5 L42.0 14.5 L44.0 15.0 L46.0 16.5 L49.0 16.0 L52.0 15.5 L55.0 15.5 L58.0 16.5 L60.0 17.5 L64.0 17.5 L67.0 19.0 L70.0 20.0 L73.0 20.0 L76.0 19.0 L79.0 18.0 L82.0 17.0 L85.0 15.5 L87.0 14.5 L84.0 17.0 L80.0 19.5 L78.0 22.5 L74.0 23.0 L70.0 23.0 L65.0 23.5 L60.0 24.0 L58.0 26.0 L55.0 27.0 L54.0 30.0 L50.0 32.5 L47.0 34.5 L43.0 37.5 L40.0 38.5 L37.0 39.5 L36.0 41.0 L38.0 42.0 L41.0 41.0 L44.0 42.5 L46.0 40.0 L49.0 38.0 L53.0 37.0 L57.0 36.5 L60.0 36.0 L62.0 37.0 L65.0 38.0 L67.0 38.5 L69.0 36.0 L70.0 32.5 L73.0 31.5 L77.0 31.0 L80.0 30.5 L83.0 31.5 L86.0 32.5 L90.0 32.0 L94.0 31.5 L98.0 30.5 L102.0 29.0 L106.0 29.5 L110.0 30.0 L116.0 30.5 L122.0 30.0 L128.0 29.0 L134.0 27.5 L138.0 26.5 L142.0 25.0 L144.5 23.0 L144.0 21.0 L141.0 20.5 L137.0 21.0 L133.0 20.5 L130.0 19.5 L133.0 18.5 L136.0 17.0 L134.0 16.0 L137.0 14.5 L140.0 13.5 L142.0 11.5 L144.0 13.0 L147.0 11.0 L149.0 8.0 L150.0 4.0 L149.5 0.0 M101.0 29.5 L104.0 28.3 L108.0 29.0 L110.0 30.5 L106.0 31.8 L102.0 31.0 L101.0 29.5 M101.8 62.0 L100.5 61.3 L99.9 58.0 L98.6 54.3 L96.0 51.0 L94.8 48.0 L93.5 46.0 L97.0 45.8 L101.0 46.2 L104.3 46.0 L105.0 48.6 L107.5 50.5 L113.2 51.1 L118.3 52.0 L122.7 51.8 L124.6 50.5 L124.4 48.0 L126.5 46.0 L131.0 44.2 L136.0 42.9 L141.1 41.6 L145.0 39.7 L146.9 37.8 L146.5 34.0 L147.0 30.5 L149.0 27.0 L153.4 25.9 L159.0 24.2 L164.6 22.6 L170.1 20.9 L175.1 19.2 L176.2 17.6 L179.0 15.9 L182.3 14.2 L183.4 12.0 L186.0 10.0 L189.0 7.0 L192.0 3.0 L193.0 0.0 M177.0 17.0 L180.0 14.5 L183.0 13.5 L185.0 15.0 L186.0 18.0 L184.0 20.5 L181.0 19.0 L178.0 19.5 L177.0 17.0 M179.0 16.0 L183.0 16.5 L185.0 19.0 M199.0 3.0 L202.0 1.0 L206.0 1.5 L211.0 2.0 L211.0 4.0 L207.0 6.0 L203.0 7.0 L200.0 5.5 L199.0 3.0 M101.8 62.0 L100.7 62.3 L97.3 61.8 L94.6 61.2 L92.3 62.3 L89.6 61.8 L86.2 62.3 L82.9 64.0 L80.7 62.3 L77.9 60.1 L75.7 58.7 L72.3 59.0 L68.4 60.1 L64.0 61.8 L58.0 62.5 L54.0 63.0 L51.0 64.5 L50.5 66.0 L53.0 67.0 L57.0 66.5 L59.0 68.0 L55.0 69.0 L52.0 70.0 L51.0 71.5 L54.0 71.5 L57.0 72.5 L58.0 74.5 L61.0 75.0 L63.0 73.5 L64.0 74.6 L67.3 75.1 L70.7 76.2 L74.0 76.8 L75.7 77.9 L78.4 77.3 L81.8 77.9 L84.6 79.6 L86.2 81.2 L85.7 82.9 L87.9 83.4 L90.1 82.9 L92.9 82.3 L95.7 83.4 L97.3 84.0 L95.7 84.4 L90.1 83.6 L89.0 85.7 L90.1 87.3 L91.8 86.8 L90.7 88.4 L92.9 91.2 L95.1 93.4 L97.3 95.7 L100.5 96.7 L103.0 98.0 L105.6 98.6 L105.0 100.5 L103.0 101.8 L105.6 105.0 L107.5 107.5 L109.4 109.4 L111.3 112.6 L113.2 115.7 L114.5 117.7 M73.4 81.4 L75.0 81.0 L76.8 81.8 L75.2 82.5 L73.4 81.4 M100.1 98.2 L102.5 97.9 L105.7 99.0 L103.0 99.7 L100.1 98.2 M99.0 101.0 L101.0 100.8 L103.0 102.5 L101.0 102.3 L99.0 101.0 M102.5 105.5 L104.5 106.0 L106.0 109.0 L104.0 107.5 L102.5 105.5 M114.5 118.0 L110.0 113.0 L106.5 109.5 L105.5 113.0 L105.0 116.0 L104.5 120.0 L104.0 124.0 L103.5 128.0 L103.0 132.0 L102.0 136.0 L100.0 139.5 L97.0 142.0 L93.0 143.0 L88.0 143.5 L84.0 142.0 L80.0 142.0 L76.0 142.0 L72.0 141.0 L68.0 140.0 L63.0 141.0 L58.0 141.5 L53.0 141.5 L48.0 141.0 L43.0 140.0 L38.0 139.5 L34.0 138.0 L30.0 138.5 L25.0 139.0 L20.0 139.0 L16.0 139.5 L12.0 138.0 L8.0 136.0 L4.0 136.5 L0.0 137.0 M104.3 121.5 L106.0 121.0 L106.5 122.5 L104.3 122.8 M110.5 228.0 L111.0 227.0 L112.0 224.0 L113.5 221.0 L115.0 218.3 L118.0 216.0 L121.5 214.7 L125.0 213.3 L126.5 211.5 L124.5 210.5 L121.5 209.0 L119.7 206.0 L118.3 202.5 L118.3 199.7 L119.7 197.0 L122.3 194.0 L125.0 191.0 L128.0 188.3 L131.0 185.5 L133.7 183.3 L135.0 180.5 L138.0 178.0 L142.3 176.0 L148.0 174.7 L153.7 174.0 L157.0 172.5 L161.0 171.0 L165.0 169.0 L169.0 167.0 L170.5 164.0 L171.0 161.0 L172.5 159.0 L171.5 157.5 L170.0 155.0 L169.5 152.0 L170.0 148.0 L172.0 145.0 L175.0 143.5 L178.0 142.5 L180.0 140.5 L184.0 139.0 L188.0 140.0 L191.0 141.5 L194.0 142.5 L198.0 142.0 L202.0 142.5 L205.0 144.0 L209.0 145.5 L213.0 146.5 L217.0 147.0 L221.0 146.5 L223.0 144.0 L226.0 142.0 L230.0 139.5 L234.0 137.5 L238.0 136.0 L242.0 135.0 L246.0 133.5 L249.0 130.0 L252.0 127.5 L256.0 126.0 L260.0 126.5 L264.0 128.0 L268.3 129.5 L272.5 131.0 L277.0 133.0 L278.3 137.5 L280.5 141.7 L282.0 146.0 L282.5 148.0 L285.5 149.5 L288.3 151.7 L291.0 154.5 L294.7 156.7 L298.3 158.0 L301.0 160.3 L304.0 163.0 L307.5 166.0 L311.0 169.0 L315.5 171.0 L319.7 173.0 L324.0 174.0 L325.5 174.0 L329.7 175.5 L332.5 177.5 L334.7 180.5 L338.3 181.0 L342.0 182.0 L344.7 183.3 L347.5 185.5 L349.7 188.3 L352.0 190.0 M352.0 163.5 L347.0 161.0 L342.5 159.0 L338.3 156.7 L334.7 153.0 L332.5 149.0 L331.0 144.5 L329.0 141.0 L325.5 137.5 L321.0 134.5 L317.0 132.5 L312.5 130.3 L309.7 127.5 L308.5 123.0 L308.7 119.5 L311.7 117.8 L309.5 116.0 L307.3 113.4 L308.2 110.8 L312.5 109.0 L316.5 107.7 L320.0 106.4 L322.1 105.1 L325.2 106.0 L327.8 105.1 L330.0 106.4 L329.6 108.6 L327.8 109.9 L328.3 112.5 L329.6 115.2 L330.9 117.8 L332.6 119.5 L334.4 120.0 L335.7 117.8 L337.0 115.6 L338.3 113.4 L340.0 112.1 L342.2 112.5 L344.4 114.3 L346.6 116.0 L348.3 117.8 L349.2 120.4 L350.5 123.0 L351.4 125.2 M338.7 113.8 L340.9 116.5 L340.5 119.5 L341.8 121.7 L340.9 124.3 L338.7 123.5 L339.6 120.8 L338.7 113.8 M342.7 114.7 L345.3 117.8 L347.5 120.8 L349.2 123.9 L351.0 127.0 L351.4 128.7 L349.2 127.8 L347.0 125.2 L345.3 122.6 L343.5 120.0 L341.8 117.8 L342.7 114.7 M344.4 126.1 L346.6 127.8 L349.7 130.4 L351.4 131.8 L348.8 130.9 L346.2 129.1 L344.0 127.4 L344.4 126.1 M264.5 147.1 L265.4 147.1 L266.4 148.5 L266.1 151.4 L266.9 154.2 L267.6 158.0 L266.9 161.9 L265.4 165.2 L264.5 168.5 L263.0 171.4 L262.1 172.3 L259.7 170.9 L257.3 169.5 L255.9 167.6 L254.9 165.2 L254.0 162.8 L253.0 160.4 L252.6 157.6 L253.5 155.2 L255.4 153.8 L258.3 152.3 L261.1 151.4 L263.5 150.9 L264.0 148.5 L264.5 147.1 M262.3 172.3 L264.7 174.2 L267.1 176.6 L269.5 179.0 L270.9 181.9 L271.9 185.2 L270.4 188.0 L268.5 190.4 L270.0 192.3 L270.0 196.6 L269.5 200.4 L268.5 203.8 L267.1 205.7 L264.7 205.7 L262.8 204.7 L261.4 205.7 L259.5 205.2 L259.0 208.0 L256.6 210.0 L253.3 210.0 L251.4 208.0 L250.4 206.6 L249.0 205.7 L249.5 203.3 L250.9 201.4 L250.4 198.5 L251.9 196.1 L250.0 194.2 L250.9 191.4 L250.4 188.5 L248.5 186.1 L247.6 183.3 L246.1 180.9 L246.6 178.0 L249.0 176.1 L247.1 178.0 L248.0 180.0 L251.4 180.0 L254.7 178.5 L258.0 176.1 L260.9 173.8 L262.3 172.3 M311.8 228.0 L311.8 223.0 L320.0 222.8 L330.0 222.8 L340.0 222.6 L346.8 222.5 L349.7 220.3 L348.3 217.0 L346.0 214.7 L343.3 214.7 M158.0 199.5 L162.3 197.0 L166.5 194.7 L170.0 193.3 L171.5 195.5 L174.5 196.0 L175.5 198.3 L173.7 201.0 L171.0 203.3 L168.0 204.7 L166.0 202.5 L163.7 200.5 L160.0 201.0 L158.0 199.5 M180.3 192.5 L184.0 192.0 L187.5 192.5 L189.0 194.7 L186.0 195.5 L182.5 194.3 L180.3 192.5 M142.0 209.5 L143.5 207.0 L146.5 206.3 L147.5 207.8 L145.5 210.0 L143.0 210.5 L142.0 209.5 M275.5 150.5 L278.0 150.0 L281.0 150.5 L280.0 152.0 L277.0 151.8 L275.5 150.5 M287.1 104.2 L287.8 105.4 L284.6 109.9 L282.7 109.2 L284.6 106.7 L287.1 104.2 M302.2 153.5 L303.3 152.4 L304.5 153.5 L303.3 154.7 L302.2 153.5 M219.0 96.5 L221.0 95.0 L224.0 94.5 L227.0 95.5 M259.0 75.5 L262.0 75.0 L265.0 76.5 L268.0 79.0 M256.0 99.7 L253.5 103.5 L252.9 105.4 M227.5 105.0 L230.0 104.0 L233.0 104.5" fill="none" stroke="#000" stroke-width="0.75" stroke-linejoin="round"/>
<path d="M53.0 67.0 L57.0 66.8 L58.5 68.0 L55.0 69.0 M73.0 77.0 L75.0 78.5 M78.4 77.5 L81.8 78.0 M84.6 79.6 L86.2 81.2 M176.0 18.0 L179.0 16.5 L182.0 17.5 L185.0 16.0 L187.0 18.5 M177.0 19.5 L180.0 18.5 L183.0 19.5 L186.0 20.5 M181.0 14.5 L183.0 15.5 L185.5 14.5 M308.2 110.5 L312.5 109.2 M262.1 172.3 L264.7 174.2 L267.1 176.6 L269.2 179.0 L270.3 181.5 M275.4 150.8 L278.0 150.3 L280.7 151.2" fill="none" stroke="#000" stroke-width="1.1"/>
<g fill="#111"><circle cx="27" cy="42.5" r="0.7"/><circle cx="84" cy="50" r="0.7"/><circle cx="86.5" cy="49.5" r="0.7"/><circle cx="90.7" cy="53.3" r="0.7"/><circle cx="91.3" cy="53.6" r="0.7"/><circle cx="46" cy="64.5" r="0.7"/><circle cx="76" cy="82" r="0.7"/><circle cx="87.5" cy="91" r="0.7"/><circle cx="91" cy="90" r="0.7"/><circle cx="145" cy="213" r="0.7"/><circle cx="311" cy="5.5" r="0.7"/><circle cx="318" cy="5.5" r="0.7"/><circle cx="322" cy="4.5" r="0.7"/><circle cx="329.5" cy="5" r="0.7"/><circle cx="338" cy="10.5" r="0.7"/><circle cx="340" cy="17" r="0.7"/><circle cx="271" cy="146.5" r="0.7"/><circle cx="287.5" cy="157.5" r="0.7"/><circle cx="290.5" cy="157.5" r="0.7"/><circle cx="278" cy="157.5" r="0.7"/><circle cx="272.5" cy="141" r="0.7"/><circle cx="319.5" cy="179" r="0.7"/><circle cx="322" cy="212.3" r="0.7"/></g>
</svg>
<text class="a" x="321.8" y="523.0" textLength="167.2" lengthAdjust="spacing">from grib files provided by ECMWF</text>
<text class="a" x="380.8" y="542.1" textLength="107.8" lengthAdjust="spacing">©2025 sb@irizone.net</text>
<rect x="141.1" y="317.5" width="352.0" height="228.4" fill="none" stroke="#000" stroke-width="0.8"/>
<!-- panel 3 -->
<text class="t" x="21.8" y="560.5" textLength="592.0" lengthAdjust="spacing" xml:space="preserve">IFS - Probas T850  standardized ano &gt; than 2 σ, Init: 20251201 00z - Valid: 20251207:00 TU</text>
<rect x="158.50" y="572.8" width="35.24" height="7.4" fill="#ffff00" stroke="#000" stroke-width="0.8"/>
<rect x="193.74" y="572.8" width="35.24" height="7.4" fill="#ffd700" stroke="#000" stroke-width="0.8"/>
<rect x="228.99" y="572.8" width="35.24" height="7.4" fill="#ffb400" stroke="#000" stroke-width="0.8"/>
<rect x="264.23" y="572.8" width="35.24" height="7.4" fill="#ff8c00" stroke="#000" stroke-width="0.8"/>
<rect x="299.48" y="572.8" width="35.24" height="7.4" fill="#ff5f00" stroke="#000" stroke-width="0.8"/>
<rect x="334.72" y="572.8" width="35.24" height="7.4" fill="#ff1e00" stroke="#000" stroke-width="0.8"/>
<rect x="369.97" y="572.8" width="35.24" height="7.4" fill="#dc0000" stroke="#000" stroke-width="0.8"/>
<rect x="405.21" y="572.8" width="35.24" height="7.4" fill="#a00000" stroke="#000" stroke-width="0.8"/>
<rect x="440.46" y="572.8" width="35.24" height="7.4" fill="#640000" stroke="#000" stroke-width="0.8"/>
<text class="l" x="158.5" y="568.6" text-anchor="middle">10</text>
<text class="l" x="193.7" y="568.6" text-anchor="middle">25</text>
<text class="l" x="229.0" y="568.6" text-anchor="middle">40</text>
<text class="l" x="264.2" y="568.6" text-anchor="middle">50</text>
<text class="l" x="299.5" y="568.6" text-anchor="middle">60</text>
<text class="l" x="334.7" y="568.6" text-anchor="middle">70</text>
<text class="l" x="370.0" y="568.6" text-anchor="middle">80</text>
<text class="l" x="405.2" y="568.6" text-anchor="middle">90</text>
<text class="l" x="440.5" y="568.6" text-anchor="middle">95</text>
<text class="l" x="475.7" y="568.6" text-anchor="middle">100</text>
<svg x="141.1" y="586.0" width="352.0" height="228.4" viewBox="0 0 352.0 228.4" overflow="hidden">

<path d="M187.9 21.4 L192.3 19.8 L196.8 19.2 L201.2 20.9 L205.7 22.6 L210.1 24.2 L213.4 27.0 L212.9 30.3 M160.1 24.2 L161.2 27.6 L164.6 30.3 L167.9 32.0 L171.2 33.7 L172.9 32.0 M171.8 41.4 L176.8 41.8 L182.3 42.0 L187.9 42.2 L192.9 42.0 M195.7 45.3 L201.2 47.6 L206.8 48.7 L211.2 50.3 L215.7 49.8 L219.0 49.2 M175.1 34.8 L179.6 35.9 L184.6 37.0 L186.2 39.8 L185.7 42.0 M149.0 35.9 L153.4 37.0 L159.0 38.7 L164.6 39.8 L169.0 39.8 L171.2 39.8 M155.7 27.0 L159.0 30.3 L163.4 33.1 L166.8 35.9 L169.0 39.8 M149.0 45.3 L154.6 46.4 L160.1 47.6 L165.7 47.0 L169.6 45.3 L170.7 42.0 M169.6 45.3 L174.6 44.2 L180.1 44.8 L184.6 45.3 L186.2 42.0 M149.0 52.0 L153.4 51.4 L159.0 50.9 L164.6 52.0 L169.6 53.7 L169.6 45.3 M184.6 45.3 L185.7 49.8 L182.3 53.1 L179.0 52.0 L174.6 51.4 L169.6 53.7 M185.7 49.8 L191.2 50.3 L196.8 50.9 L200.1 50.3 M209.6 29.8 L213.4 33.1 L216.8 35.9 L219.0 37.6 M211.2 40.3 L214.6 38.1 L219.0 37.0 M209.6 44.2 L211.2 40.3 M209.6 44.2 L212.9 46.4 L215.7 49.8 M211.2 50.3 L210.7 54.2 L211.2 59.0 M203.4 48.7 L202.3 52.6 M229.6 1.7 L226.2 2.2 L224.6 3.9 L228.4 5.0 L229.6 7.2 L226.2 9.4 L224.6 11.7 L221.8 13.3 L218.4 13.9 M214.0 23.9 L215.7 26.7 L215.1 30.6 L217.9 33.3 L219.0 36.7 L216.2 39.4 L215.7 42.8 L218.4 45.0 L221.8 46.1 L227.0 50.0 L232.0 51.0 L238.0 51.5 L244.0 53.0 L248.0 56.0 M338.0 27.0 L330.0 30.0 L322.0 32.0 L314.0 35.0 L308.0 37.5 L306.0 38.0 L308.0 40.0 L311.0 43.0 L312.0 47.0 L315.0 50.0 L319.0 53.0 L323.0 56.0 L328.0 58.0 L333.0 60.0 L336.0 61.0 M338.0 27.0 L342.0 28.0 L346.0 29.0 L350.0 26.0 L349.0 21.0 L347.0 18.0 L345.0 14.0 L346.0 11.0 M268.0 79.0 L272.0 80.0 L277.0 81.0 L280.0 79.0 L284.0 79.5 L288.0 81.0 L293.0 80.0 L298.0 78.5 L303.0 77.0 L307.0 76.0 L311.0 72.0 L314.0 69.0 L318.0 71.0 L320.0 74.0 L319.0 78.0 L316.0 77.0 M264.0 90.0 L268.0 93.0 L271.0 93.0 L275.0 91.0 L280.0 89.0 L286.0 88.0 L292.0 87.0 L298.0 86.5 L304.0 86.0 L307.0 87.0 L309.0 90.0 L314.0 92.0 L319.0 93.0 L324.0 93.5 L328.0 95.0 L326.0 98.0 L327.0 102.0 L329.0 105.0 M271.0 93.0 L273.0 97.0 L276.0 98.0 M328.0 95.0 L333.0 94.5 L339.0 95.5 L345.0 95.0 L352.0 94.0 M330.0 107.0 L334.0 108.5 L338.3 109.5 L342.7 108.2 L347.0 109.5 L351.4 110.0 M240.0 78.5 L236.0 81.0 L232.0 84.0 L228.0 88.0 L224.0 92.0 L221.0 97.0 L223.0 101.0 L227.0 104.0 M233.0 107.0 L237.0 110.0 L242.0 112.0 L247.0 110.0 L250.0 107.0 L253.0 104.0 L256.7 101.6 L259.2 104.2 L261.7 100.3 L264.9 96.5 L268.1 95.3 L273.2 96.5 L275.7 98.4 M230.0 132.1 L235.1 130.8 L238.9 130.2 L237.6 133.4 L235.1 135.3 M233.0 107.0 L231.0 111.0 L234.0 115.0 L232.0 119.0 L236.0 122.0 L235.0 126.0 L238.0 129.0 L243.0 130.0 L248.0 130.0 M98.7 141.7 L102.0 144.5 L106.5 146.7 L111.0 149.0 L116.5 150.3 L123.5 151.7 L131.0 152.5 L138.0 154.0 L145.0 154.5 L151.0 155.3 L156.5 156.7 L162.0 157.5 L168.0 156.7 L171.5 157.5 M0.0 165.0 L5.0 164.5 L9.0 165.5 L13.0 163.5 L18.0 163.5 L23.0 164.0 L24.0 167.0 L27.0 169.0 L30.0 170.0 M19.3 177.5 L20.0 182.5 L19.3 187.0 L17.0 189.7 L18.5 192.5 L18.0 196.0 M9.3 198.3 L12.0 201.0 L14.3 204.7 L17.0 207.5 L18.0 209.0 M13.0 215.5 L14.3 219.7 L18.0 220.5 L15.7 224.0 L13.0 228.0 M255.4 157.1 L259.2 159.0 L262.1 162.8 L263.5 165.2 M128.4 56.2 L132.3 58.8 L134.8 61.3 L139.9 62.0 L145.0 61.3 L147.5 58.1 L146.9 54.3 L148.8 50.5 L148.1 46.7 L147.5 42.9 L146.9 38.4 M220.0 47.3 L225.0 51.8 L230.1 54.3 L235.2 56.2 L239.0 56.9 M119.6 98.0 L120.8 101.8 L117.7 105.0 L115.7 108.1 L111.3 109.4 M120.8 101.8 L125.9 103.0 L131.0 103.7 L134.8 105.6 L132.9 108.8 L128.4 111.3 L124.6 113.2 L122.0 115.1 L125.9 118.3 M134.8 105.6 L139.9 108.1 L145.0 109.4 L143.0 113.8 L143.7 118.3 M145.0 109.4 L150.0 108.1 L155.1 109.4 L160.2 108.1 M110.7 125.9 L115.7 124.6 L119.6 127.2 L117.7 130.4 L120.8 132.9 L124.6 131.6 L128.4 132.9 L132.3 129.7 M136.0 122.0 L138.6 125.9 L137.3 131.0 M143.7 118.3 L147.5 122.0 L152.6 123.4 L155.1 120.8 L160.2 122.0 L164.0 121.5 M147.5 122.0 L148.8 127.2 L152.6 129.0 L151.3 134.2 M119.6 133.5 L122.0 137.0 M175.5 101.8 L180.6 103.0 L185.7 102.4 L189.5 104.3 L194.6 104.3 M174.2 112.6 L179.3 111.3 L184.4 113.2 L189.5 112.0 L195.2 113.2 M184.4 113.2 L185.7 118.3 L183.1 122.0 L185.7 127.2 L190.7 128.4 L193.9 127.2 M159.0 101.8 L164.0 99.2 L169.2 100.5 L172.3 105.0 M159.0 120.8 L164.0 118.3 L169.2 120.8 L174.2 118.3 L177.4 116.4 M197.1 113.2 L202.2 115.7 L207.3 118.3 L209.8 122.0 L207.3 125.9 L206.0 129.7 L209.8 132.3 L211.7 131.6 M207.9 107.5 L212.3 110.7 L217.4 109.4 L222.5 111.3 L227.6 109.4 L230.1 113.2 L227.6 117.0 L224.4 118.3 M212.3 110.7 L214.9 115.7 L218.7 118.3 L222.5 117.7 M207.3 118.3 L212.3 120.8 L216.1 126.5 M230.1 99.2 L233.9 103.0 L239.0 104.3 M159.0 127.2 L164.0 125.9 L169.2 127.2 L171.7 131.0 L176.8 132.3 L181.9 131.0 L184.4 133.5 L189.5 134.8 L192.0 137.0 M99.9 139.2 L105.6 139.8 L112.0 139.2 L118.3 139.8 L122.0 138.5 L127.2 140.4 L132.3 141.7 L137.3 141.0 L142.4 141.7 M122.0 138.5 L121.5 143.0 L119.6 146.8 M119.6 134.0 L124.6 132.8 L129.7 134.0 L134.8 132.8 L138.6 135.3 M147.5 143.6 L152.6 141.7 L157.7 143.0 L162.7 141.0 M147.5 148.0 L152.6 149.3 L157.7 148.0 L162.7 150.0 M119.6 129.0 L122.0 131.5 L119.6 134.0 M159.0 141.0 L164.0 138.5 L169.2 136.6 L174.2 134.7 L179.3 132.8 L184.4 134.0 L188.2 132.8 M169.2 149.3 L164.0 148.0 L159.0 149.3 M169.2 155.0 L164.0 156.3 L159.0 155.7 M209.2 136.6 L209.8 140.4 L209.2 144.2 M213.6 134.0 L218.7 136.0 L223.8 134.7 L228.2 132.8 L232.7 134.0 L236.5 132.2 M174.2 134.7 L175.5 139.2 L173.0 143.6 M223.0 122.0 L226.0 126.0 L224.0 130.0 L228.2 132.8 M197.0 120.0 L202.0 121.0 L206.0 125.9 M197.0 128.0 L201.0 130.0 L206.0 129.7 M68.4 62.3 L69.0 66.2 L67.3 69.6 L66.2 71.8 L69.6 72.9 L74.0 72.3 L78.4 70.7 L82.9 71.8 L87.9 71.2 L89.6 68.4 L92.3 66.2 L93.4 63.4 M69.0 66.2 L74.0 67.3 L78.4 66.8 L82.9 67.9 L87.3 67.3 L89.6 68.4 M87.9 71.2 L90.7 74.6 L92.3 77.9 L91.8 81.8 M92.3 77.9 L97.3 76.8 L101.8 75.7 L105.1 74.6 L104.6 70.7 L106.2 67.3 L105.7 64.0 M101.8 61.8 L105.7 64.0 L110.7 64.6 L116.2 64.0 L120.7 65.1 L126.2 64.6 L130.7 66.2 L134.0 67.3 M105.1 56.8 L108.4 59.6 L111.8 59.0 L116.2 58.4 L121.8 57.9 L126.2 56.8 L129.0 56.2 L129.6 54.0 M110.7 64.6 L111.8 60.7 L108.4 59.6 M105.1 74.6 L108.4 75.7 L112.9 75.1 L117.3 74.6 L121.8 75.7 L126.2 77.3 L130.7 76.8 L134.0 75.7 M120.7 65.1 L119.6 68.4 L117.9 71.8 L117.3 74.6 M105.1 74.6 L106.2 77.9 L105.1 81.2 M99.6 86.2 L102.9 85.7 L107.3 87.3 L111.8 86.2 L116.2 85.7 L119.6 86.2 L121.8 89.6 L122.3 92.9 L124.0 96.2 L126.2 98.4 M107.3 87.3 L108.4 90.7 L111.8 92.3 L112.9 96.2 L110.7 98.4 M112.9 96.2 L117.3 95.1 L121.8 92.9 M126.2 77.3 L125.7 80.7 L126.2 83.8 M129.0 58.4 L133.4 60.7 L136.8 64.0 L134.6 67.3 L131.2 68.4 L129.0 67.9 M136.8 64.0 L141.2 62.9 L145.7 61.8 L150.1 60.7 L152.9 58.4 L155.7 57.9 M134.6 67.3 L139.0 70.7 L143.4 72.3 L147.9 71.2 L152.3 69.6 L152.9 66.2 L150.1 60.7 M152.9 66.2 L156.8 65.1 L160.1 65.7 L161.2 63.4 M152.3 69.6 L156.8 70.7 L161.2 69.6 L165.7 70.7 L169.0 69.6 L170.7 66.8 M165.7 70.7 L167.9 74.0 L166.8 77.9 M167.9 74.0 L172.3 75.7 L175.7 74.0 M129.0 74.6 L133.4 75.7 L137.9 74.6 L141.2 76.2 L143.4 77.3 M139.0 80.1 L140.1 84.0 L143.4 86.2 L142.3 89.6 L139.0 91.8 L135.7 90.7 L131.8 90.7 M143.4 86.2 L147.9 85.1 L152.3 84.0 L155.7 81.8 L155.1 77.9 L155.7 74.0 M155.7 81.8 L160.1 82.9 L164.6 81.8 L167.3 81.2 M152.3 84.0 L154.6 87.3 L154.0 91.8 L155.7 95.1 L154.0 98.4 L154.6 101.0 M142.3 89.6 L145.7 92.9 L150.1 94.0 L154.0 91.8 M155.7 95.1 L160.1 94.0 L164.6 92.9 L168.4 90.7 L169.0 89.0 M139.0 91.8 L140.1 96.2 L143.4 98.4 L147.9 97.3 L150.1 94.0 M173.4 95.1 L177.9 93.4 L182.3 92.3 L184.6 89.6 L183.4 86.2 M182.3 92.3 L184.6 96.2 L189.0 97.3 L193.4 96.2 L196.8 95.1 M177.9 77.3 L182.3 78.4 L185.7 80.7 L184.6 84.0 L182.9 86.2 M185.7 80.7 L190.1 81.8 L194.6 80.7 L199.0 81.8 M173.4 64.6 L175.7 68.4 L179.0 70.7 L182.3 69.6 L184.6 67.3 M179.0 70.7 L181.2 74.6 L184.6 76.2 L187.9 75.1 L191.2 74.6 M177.9 55.3 L176.8 59.6 L177.9 63.4 M190.1 59.6 L192.3 65.1 L195.7 68.4 L199.0 69.6 M191.2 74.6 L195.7 73.4 L199.0 74.0 M194.0 57.3 L197.9 59.0 L200.7 57.3 L204.6 59.0 L207.9 60.7 M197.9 59.0 L197.3 62.9 M207.9 68.4 L211.8 69.6 L216.2 70.7 L220.7 71.8 L223.4 71.2 M209.0 64.6 L212.9 65.1 L215.7 63.4 M218.4 58.4 L222.9 60.1 L227.3 61.2 L230.7 64.0 L231.8 67.3 L235.1 68.4 L237.9 70.7 M230.7 64.0 L234.0 62.9 L237.3 60.7 L240.7 59.0 L244.6 57.3 M227.3 54.0 L230.7 55.7 L235.1 56.2 L239.6 55.7 M231.8 67.3 L229.6 70.7 L227.3 74.0 L226.2 77.3 L227.3 80.1 M226.2 77.3 L230.7 77.9 L234.0 80.7 L236.8 79.0 M204.0 74.6 L207.3 76.2 L211.8 75.7 L216.2 76.8 L220.7 75.7 L226.2 77.3 M216.2 76.8 L215.1 80.7 L216.2 82.3 M204.6 74.6 L205.1 78.4 L208.4 81.8 L206.2 85.7 M194.0 74.0 L198.4 76.2 L202.9 77.3 L205.1 78.4 M196.2 92.3 L200.7 91.8 L205.1 90.7 L209.6 92.3 L212.9 90.7 L215.7 92.3 M205.1 90.7 L204.0 95.1 L206.2 98.4 L210.7 101.0 M209.6 85.7 L211.8 87.3 L215.1 86.2 L217.9 89.6 M237.3 79.0 L234.0 81.2 L230.7 82.9 L227.3 85.1 L224.0 87.3 L221.8 90.7 L219.6 94.0 M239.6 78.4 L242.9 80.1 L247.3 79.0 L251.8 77.9 L256.2 78.4" fill="none" stroke="#808080" stroke-width="0.45"/>
<path d="M67.0 2.5 L70.0 4.5 L73.0 3.5 L75.0 1.5 L77.0 0.0 M82.0 1.0 L86.0 5.0 L88.0 9.0 L90.0 10.7 L89.0 13.0 L87.5 14.5 M93.0 14.3 L96.0 16.0 L100.0 15.5 L103.0 14.5 L105.0 16.5 L108.0 18.5 L111.0 18.0 L114.0 19.5 L118.0 20.0 L122.0 19.5 L126.0 19.0 L130.0 19.5 M125.0 49.5 L129.0 49.0 L133.0 49.5 L136.0 51.0 L139.0 52.5 L142.0 54.5 L146.0 56.0 L150.0 57.0 L154.0 58.0 L158.0 58.5 L162.0 58.5 L160.0 61.0 L163.0 63.5 L167.0 65.5 L171.0 66.5 L175.0 65.5 L178.0 64.5 L176.0 62.5 L180.0 63.5 L184.0 66.0 L188.0 69.0 L191.0 72.0 L193.0 76.0 L194.0 79.0 M162.0 58.5 L166.0 57.5 L170.0 56.5 L174.0 55.5 L178.0 55.0 L180.0 54.5 L185.0 56.0 L189.0 59.0 L192.0 61.0 L196.0 62.5 L199.0 65.0 L201.0 69.0 L203.0 72.0 L204.0 74.0 M171.0 66.5 L173.0 70.0 L175.0 74.0 L177.0 78.0 L178.0 80.0 L181.0 83.0 L183.0 86.0 M178.0 27.5 L175.0 29.5 L174.0 32.0 L176.0 34.0 L174.0 36.5 L172.0 38.5 L171.0 41.0 L173.0 41.5 M176.0 30.0 L180.0 28.0 L184.0 26.0 L188.0 24.0 L189.0 22.0 L186.0 20.0 M184.0 12.5 L190.0 13.0 L196.0 13.5 L202.0 13.0 L208.0 12.5 L213.0 12.5 L216.0 10.0 L216.5 6.0 L214.0 3.0 L211.0 2.0 M213.0 12.5 L218.0 14.0 L222.0 17.0 L224.0 21.0 L227.0 25.0 L230.0 29.0 L233.0 33.0 L236.0 36.0 L238.0 38.0 L240.0 40.0 L243.0 42.0 L247.0 42.0 L249.0 42.0 L250.0 46.0 L251.0 50.0 L250.0 54.0 L248.0 57.0 L246.0 58.0 L243.0 62.0 L240.0 66.0 L238.0 70.0 L237.0 74.0 L238.0 77.0 L240.0 78.5 L245.0 78.0 L250.0 77.5 L255.0 77.0 L259.0 75.5 M249.0 42.0 L254.0 40.5 L258.0 40.0 L261.0 42.0 L263.0 45.0 L264.0 45.0 L267.0 43.0 L270.0 42.5 L273.0 45.0 L275.0 46.0 L277.0 43.0 L280.0 42.0 L284.0 43.0 L288.0 41.0 L291.0 39.0 L294.0 39.0 L297.0 41.0 L298.0 44.0 M184.0 14.0 L190.0 14.5 L196.0 14.0 L204.0 14.5 L210.0 15.0 L214.0 17.0 L216.0 20.0 L214.0 23.0 L211.0 26.0 L210.0 30.0 L206.0 32.0 L201.0 33.5 L197.0 35.0 L195.0 38.0 L194.0 42.0 L195.0 46.0 L198.0 49.0 L201.0 52.0 L204.0 55.0 L206.0 58.0 L208.0 61.0 L209.0 65.0 L208.0 69.0 L206.0 72.0 M237.0 37.0 L233.0 40.0 L229.0 43.0 L225.0 45.0 L221.0 47.0 L218.0 50.0 L216.0 54.0 L215.0 58.0 L214.0 61.0 L213.0 63.0 L216.0 66.0 L219.0 68.5 L222.0 70.5 L225.0 72.0 L227.0 72.5 M232.0 0.0 L234.0 5.0 L238.0 9.0 L243.0 11.0 L248.0 13.0 L252.0 14.0 L256.0 13.0 M263.0 0.0 L259.0 5.0 L257.0 8.0 L260.0 10.0 L264.0 10.0 L266.0 12.0 L265.0 15.0 L268.0 18.0 L271.0 21.0 L275.0 24.0 L279.0 25.5 L276.0 27.0 L274.0 29.0 L277.0 31.0 L280.0 33.0 L284.0 35.0 L288.0 35.0 M304.7 0.0 L302.0 4.0 L299.0 8.0 L301.0 11.5 L306.0 13.5 L311.0 13.5 L316.0 14.5 L320.0 18.0 L324.0 21.0 L328.0 24.0 L332.0 26.0 L336.0 28.0 L338.0 29.0 L336.0 32.0 L336.0 34.0 L340.0 37.0 L344.0 39.0 L348.0 39.5 L352.0 39.5 M338.0 29.0 L340.0 31.0 L339.0 35.0 L341.0 39.0 L340.0 43.0 L338.0 47.0 L339.0 51.0 L341.0 55.0 L342.0 60.0 M341.0 0.0 L344.0 2.0 L343.0 6.0 L346.0 8.0 L346.0 10.5 L352.0 10.5 M344.0 2.5 L352.0 2.0 M247.0 71.0 L251.0 72.5 L255.0 73.0 L259.0 72.0 L263.0 71.0 L268.0 68.0 L272.0 66.0 L277.0 64.0 L282.0 62.0 L287.0 61.0 L292.0 60.5 L297.0 60.0 L300.0 60.0 L303.0 58.0 L307.0 57.0 L311.0 58.0 L316.0 59.0 L321.0 61.0 L325.0 63.0 L328.0 64.0 L332.0 65.5 L337.0 67.0 L342.0 68.0 L347.0 69.0 L352.0 69.0 M316.0 59.0 L320.0 59.0 L325.0 58.0 L330.0 59.0 L334.0 60.0 L336.0 61.0 L340.0 62.0 L341.0 59.0 L342.0 58.0 M327.0 63.5 L324.0 66.0 L319.0 67.5 L314.0 69.0 L309.0 71.0 L307.0 74.0 L307.0 77.0 L304.0 79.0 L299.0 80.5 L294.0 82.0 L289.0 83.0 L285.0 84.5 L283.0 87.0 L281.0 90.0 L278.0 92.0 L274.0 94.0 L271.0 96.0 L269.0 98.0 M327.0 85.0 L332.0 84.5 L337.0 85.0 L342.0 84.0 L347.0 82.0 L352.0 81.0 M308.0 88.0 L313.0 89.0 L318.0 90.5 L323.0 90.0 L328.0 91.5 L333.0 93.0 L338.0 94.0 L343.0 94.0 L348.0 93.0 L352.0 93.0 M283.0 89.5 L287.0 90.0 L291.0 91.0 L293.5 94.0 L292.9 97.8 L291.0 102.9 L287.8 106.7 L285.2 109.9 L284.6 113.7 L284.6 117.5 M285.2 109.9 L289.7 110.5 L293.5 112.4 L297.3 114.3 L302.4 115.0 L307.5 115.0 L310.0 115.6 M268.0 79.0 L266.0 83.0 L266.0 87.0 L264.0 89.0 M97.3 84.0 L100.7 82.7 L105.1 81.2 L109.6 80.9 L114.0 80.4 L117.3 80.7 L120.7 82.0 L124.0 83.4 L126.2 83.8 L129.6 82.3 L131.0 82.5 L135.0 81.0 L139.0 80.0 L143.0 78.0 L146.0 76.0 L149.0 74.5 L152.0 73.5 L156.0 74.0 L160.0 75.0 L163.0 76.5 L166.0 79.0 L168.0 83.0 L169.0 87.0 L170.0 91.0 L172.0 94.0 L174.0 98.0 L174.0 102.0 L173.0 106.0 L172.0 110.0 L174.0 114.0 L176.0 116.0 L177.5 116.0 L180.3 119.5 L182.5 123.0 M130.0 83.0 L131.0 87.0 L132.0 91.0 L133.0 95.0 L133.0 99.0 L134.0 102.0 L137.0 104.0 L141.0 105.0 L145.0 105.5 L148.0 106.5 L151.0 107.0 M150.0 117.5 L153.0 115.0 L156.0 112.0 L159.0 109.5 L162.0 108.5 L164.0 108.0 M226.0 80.0 L222.0 81.0 L217.0 82.5 L212.0 84.0 L207.0 85.5 L202.0 87.5 L198.0 89.5 L196.0 91.5 L197.0 95.0 L196.0 99.0 L195.0 103.0 L196.0 107.0 L197.0 112.0 L195.3 116.0 L195.3 120.3 L194.0 124.5 L194.0 129.5 L195.3 132.5 L192.5 135.3 L190.3 138.0 L189.5 140.3 M192.5 135.3 L194.0 139.0 L194.5 141.7 M238.0 77.0 L233.9 80.3 L230.1 82.3 L228.2 81.6 L226.0 80.0 M231.0 81.5 L227.0 83.5 L223.0 86.0 L219.0 88.5 L216.0 91.5 L216.0 93.7 L213.0 97.0 L211.0 100.0 L209.0 104.0 L206.0 106.0 L203.0 105.0 L199.0 105.0 L196.0 104.0 M216.0 93.7 L219.0 96.5 L221.0 95.0 L224.0 94.5 L227.0 95.5 L230.0 98.0 L232.0 100.0 L236.0 99.0 L240.0 97.0 L244.0 95.5 L248.0 93.0 L252.0 91.5 L256.0 90.0 L260.0 89.0 L264.0 88.0 L267.0 89.0 M230.0 100.3 L235.1 99.1 L241.4 97.2 L246.5 95.3 L251.6 94.0 L256.0 94.6 L258.6 96.5 L259.8 99.1 L257.3 99.7 L254.8 102.3 L252.9 105.4 L253.5 108.6 L256.0 111.8 L259.2 114.3 L261.7 115.6 M227.5 105.5 L230.0 106.1 L235.1 105.4 L238.9 106.7 L242.1 109.9 L244.0 114.3 M270.6 94.0 L271.9 96.5 M195.3 132.5 L199.5 134.5 L204.5 136.7 L209.0 136.7 L211.0 134.5 L212.5 131.0 L213.0 127.5 L216.0 125.7 L220.0 124.5 L222.5 122.5 L223.0 119.0 L224.0 116.7 M176.0 126.7 L177.5 129.0 M312.5 118.0 L310.0 116.9 L304.9 116.9 L298.6 117.5 L293.5 116.2 L288.4 116.2 L284.6 117.5 L280.8 118.1 L277.0 116.9 L273.2 115.6 L269.4 116.2 L264.3 115.6 L260.5 116.2 L255.4 116.9 L251.6 115.6 L247.8 114.3 L244.0 114.3 L240.8 115.0 L238.9 118.1 L238.9 121.9 L236.3 124.5 L232.5 125.1 L230.0 124.5 L228.0 124.5 M304.7 136.7 L306.0 139.5 L309.0 142.5 L311.0 145.3 L310.5 149.0 L307.5 152.5 L309.7 155.3 L313.3 158.0 L314.0 160.3 L312.0 164.0 L309.0 166.0 M114.5 118.0 L116.0 120.3 L121.0 123.0 L126.0 126.7 L131.0 129.0 L136.0 130.3 L141.0 131.0 L143.0 135.0 L144.5 137.5 L146.5 143.0 L148.0 150.0 L151.0 154.0 L151.0 156.0 L145.0 157.5 L142.0 161.5 L136.5 164.5 L132.0 169.0 L128.0 172.5 M141.0 131.0 L145.0 134.5 L149.5 135.3 L156.5 134.0 L164.0 132.5 L169.5 130.3 L174.0 127.5 L178.0 126.7 M114.5 118.0 L121.0 119.0 L128.0 119.5 L135.0 119.0 L142.0 119.5 L148.0 119.0 L151.0 116.7 M144.5 139.5 L142.0 142.5 L138.0 145.3 L134.0 146.0 L131.5 146.7 L133.0 149.5 L135.0 151.7 L136.5 152.5 M58.0 147.5 L61.0 148.0 L63.0 150.0 L67.0 149.5 L71.0 150.5 L75.0 151.5 L79.0 153.0 L82.0 155.0 L86.0 156.0 L88.0 154.5 L92.0 156.0 L96.5 158.0 L101.0 161.0 L105.0 164.5 L109.5 167.5 L114.0 170.3 L118.0 172.5 L122.0 173.0 L126.0 171.7 L128.0 172.5 L129.5 174.5 L131.0 174.7 L132.3 176.0 L130.5 178.3 L131.0 180.5 L133.0 182.0 L134.5 182.3 M0.0 158.0 L4.0 156.5 L6.0 154.0 L7.0 150.0 L9.0 148.0 L8.0 145.0 L11.0 143.5 L13.0 144.5 M46.0 148.5 L45.0 151.0 L43.0 153.5 L40.0 156.0 L39.0 160.0 L38.0 164.0 L35.0 167.0 L32.0 170.0 L30.0 172.0 L27.0 173.0 L24.0 174.5 L23.0 174.0 L20.7 176.0 L18.0 177.5 L14.3 175.0 L8.5 175.5 L4.3 174.7 L0.0 176.0 M31.0 170.0 L36.0 171.0 L42.0 170.5 L48.0 169.0 L54.0 168.0 L60.0 168.0 L65.0 167.5 L70.0 168.5 L75.0 170.0 L80.0 170.5 L85.0 169.5 L87.0 167.0 L85.0 164.5 L81.0 163.5 L78.0 163.0 M0.0 200.5 L4.3 199.0 L8.5 197.5 L14.3 197.0 L20.0 196.5 L25.7 196.0 L30.7 195.0 L34.3 195.7 L41.5 195.5 L45.7 195.0 L50.0 193.0 L54.3 194.0 L57.0 195.5 L61.5 195.0 L67.0 193.3 L73.0 192.0 L77.0 189.7 L80.0 186.0 L83.0 183.3 L85.7 181.0 L88.0 181.0 L92.3 180.0 L96.0 181.0 L98.0 182.5 L98.0 184.7 M7.0 228.0 L6.5 224.0 L8.5 219.7 L10.7 215.5 L13.0 212.0 L15.7 210.0 L21.5 209.7 L27.0 209.0 L33.0 208.0 L38.5 207.0 L43.0 205.7 L45.7 202.5 L48.0 202.0 L50.0 203.3 L53.0 206.0 L57.0 208.3 L61.5 209.0 L63.0 207.0 L68.5 204.7 L74.3 203.3 L78.5 202.0 L83.0 202.5 L84.3 199.7 L83.5 195.5 L85.7 192.5 L87.0 192.0 M40.7 228.0 L45.7 226.0 L51.5 224.0 L57.0 222.5 L63.0 222.3 L67.0 223.3 L71.5 224.3 L75.7 222.5 L79.3 220.5 L81.0 220.5 L80.7 223.3 L79.3 224.0" fill="none" stroke="#0a0aff" stroke-width="0.8" stroke-linejoin="round"/>
<path d="M33.0 195.5 L37.0 196.0 L42.0 195.5 M45.7 202.5 L48.0 201.5 L50.0 203.3 M81.0 186.0 L83.0 183.5 L85.0 185.0" fill="none" stroke="#101060" stroke-width="1.3"/>
<path d="M0.0 14.5 L3.0 12.5 L8.0 10.5 L12.0 9.5 L17.0 9.0 L19.0 7.5 L22.0 8.0 L25.0 7.0 L27.0 8.0 L27.0 5.0 L29.0 2.0 L30.0 0.0 M63.0 0.0 L62.0 3.0 L60.0 5.0 L57.0 7.5 L53.0 9.0 L48.0 11.5 L43.0 13.5 L42.0 14.5 L44.0 15.0 L46.0 16.5 L49.0 16.0 L52.0 15.5 L55.0 15.5 L58.0 16.5 L60.0 17.5 L64.0 17.5 L67.0 19.0 L70.0 20.0 L73.0 20.0 L76.0 19.0 L79.0 18.0 L82.0 17.0 L85.0 15.5 L87.0 14.5 L84.0 17.0 L80.0 19.5 L78.0 22.5 L74.0 23.0 L70.0 23.0 L65.0 23.5 L60.0 24.0 L58.0 26.0 L55.0 27.0 L54.0 30.0 L50.0 32.5 L47.0 34.5 L43.0 37.5 L40.0 38.5 L37.0 39.5 L36.0 41.0 L38.0 42.0 L41.0 41.0 L44.0 42.5 L46.0 40.0 L49.0 38.0 L53.0 37.0 L57.0 36.5 L60.0 36.0 L62.0 37.0 L65.0 38.0 L67.0 38.5 L69.0 36.0 L70.0 32.5 L73.0 31.5 L77.0 31.0 L80.0 30.5 L83.0 31.5 L86.0 32.5 L90.0 32.0 L94.0 31.5 L98.0 30.5 L102.0 29.0 L106.0 29.5 L110.0 30.0 L116.0 30.5 L122.0 30.0 L128.0 29.0 L134.0 27.5 L138.0 26.5 L142.0 25.0 L144.5 23.0 L144.0 21.0 L141.0 20.5 L137.0 21.0 L133.0 20.5 L130.0 19.5 L133.0 18.5 L136.0 17.0 L134.0 16.0 L137.0 14.5 L140.0 13.5 L142.0 11.5 L144.0 13.0 L147.0 11.0 L149.0 8.0 L150.0 4.0 L149.5 0.0 M101.0 29.5 L104.0 28.3 L108.0 29.0 L110.0 30.5 L106.0 31.8 L102.0 31.0 L101.0 29.5 M101.8 62.0 L100.5 61.3 L99.9 58.0 L98.6 54.3 L96.0 51.0 L94.8 48.0 L93.5 46.0 L97.0 45.8 L101.0 46.2 L104.3 46.0 L105.0 48.6 L107.5 50.5 L113.2 51.1 L118.3 52.0 L122.7 51.8 L124.6 50.5 L124.4 48.0 L126.5 46.0 L131.0 44.2 L136.0 42.9 L141.1 41.6 L145.0 39.7 L146.9 37.8 L146.5 34.0 L147.0 30.5 L149.0 27.0 L153.4 25.9 L159.0 24.2 L164.6 22.6 L170.1 20.9 L175.1 19.2 L176.2 17.6 L179.0 15.9 L182.3 14.2 L183.4 12.0 L186.0 10.0 L189.0 7.0 L192.0 3.0 L193.0 0.0 M177.0 17.0 L180.0 14.5 L183.0 13.5 L185.0 15.0 L186.0 18.0 L184.0 20.5 L181.0 19.0 L178.0 19.5 L177.0 17.0 M179.0 16.0 L183.0 16.5 L185.0 19.0 M199.0 3.0 L202.0 1.0 L206.0 1.5 L211.0 2.0 L211.0 4.0 L207.0 6.0 L203.0 7.0 L200.0 5.5 L199.0 3.0 M101.8 62.0 L100.7 62.3 L97.3 61.8 L94.6 61.2 L92.3 62.3 L89.6 61.8 L86.2 62.3 L82.9 64.0 L80.7 62.3 L77.9 60.1 L75.7 58.7 L72.3 59.0 L68.4 60.1 L64.0 61.8 L58.0 62.5 L54.0 63.0 L51.0 64.5 L50.5 66.0 L53.0 67.0 L57.0 66.5 L59.0 68.0 L55.0 69.0 L52.0 70.0 L51.0 71.5 L54.0 71.5 L57.0 72.5 L58.0 74.5 L61.0 75.0 L63.0 73.5 L64.0 74.6 L67.3 75.1 L70.7 76.2 L74.0 76.8 L75.7 77.9 L78.4 77.3 L81.8 77.9 L84.6 79.6 L86.2 81.2 L85.7 82.9 L87.9 83.4 L90.1 82.9 L92.9 82.3 L95.7 83.4 L97.3 84.0 L95.7 84.4 L90.1 83.6 L89.0 85.7 L90.1 87.3 L91.8 86.8 L90.7 88.4 L92.9 91.2 L95.1 93.4 L97.3 95.7 L100.5 96.7 L103.0 98.0 L105.6 98.6 L105.0 100.5 L103.0 101.8 L105.6 105.0 L107.5 107.5 L109.4 109.4 L111.3 112.6 L113.2 115.7 L114.5 117.7 M73.4 81.4 L75.0 81.0 L76.8 81.8 L75.2 82.5 L73.4 81.4 M100.1 98.2 L102.5 97.9 L105.7 99.0 L103.0 99.7 L100.1 98.2 M99.0 101.0 L101.0 100.8 L103.0 102.5 L101.0 102.3 L99.0 101.0 M102.5 105.5 L104.5 106.0 L106.0 109.0 L104.0 107.5 L102.5 105.5 M114.5 118.0 L110.0 113.0 L106.5 109.5 L105.5 113.0 L105.0 116.0 L104.5 120.0 L104.0 124.0 L103.5 128.0 L103.0 132.0 L102.0 136.0 L100.0 139.5 L97.0 142.0 L93.0 143.0 L88.0 143.5 L84.0 142.0 L80.0 142.0 L76.0 142.0 L72.0 141.0 L68.0 140.0 L63.0 141.0 L58.0 141.5 L53.0 141.5 L48.0 141.0 L43.0 140.0 L38.0 139.5 L34.0 138.0 L30.0 138.5 L25.0 139.0 L20.0 139.0 L16.0 139.5 L12.0 138.0 L8.0 136.0 L4.0 136.5 L0.0 137.0 M104.3 121.5 L106.0 121.0 L106.5 122.5 L104.3 122.8 M110.5 228.0 L111.0 227.0 L112.0 224.0 L113.5 221.0 L115.0 218.3 L118.0 216.0 L121.5 214.7 L125.0 213.3 L126.5 211.5 L124.5 210.5 L121.5 209.0 L119.7 206.0 L118.3 202.5 L118.3 199.7 L119.7 197.0 L122.3 194.0 L125.0 191.0 L128.0 188.3 L131.0 185.5 L133.7 183.3 L135.0 180.5 L138.0 178.0 L142.3 176.0 L148.0 174.7 L153.7 174.0 L157.0 172.5 L161.0 171.0 L165.0 169.0 L169.0 167.0 L170.5 164.0 L171.0 161.0 L172.5 159.0 L171.5 157.5 L170.0 155.0 L169.5 152.0 L170.0 148.0 L172.0 145.0 L175.0 143.5 L178.0 142.5 L180.0 140.5 L184.0 139.0 L188.0 140.0 L191.0 141.5 L194.0 142.5 L198.0 142.0 L202.0 142.5 L205.0 144.0 L209.0 145.5 L213.0 146.5 L217.0 147.0 L221.0 146.5 L223.0 144.0 L226.0 142.0 L230.0 139.5 L234.0 137.5 L238.0 136.0 L242.0 135.0 L246.0 133.5 L249.0 130.0 L252.0 127.5 L256.0 126.0 L260.0 126.5 L264.0 128.0 L268.3 129.5 L272.5 131.0 L277.0 133.0 L278.3 137.5 L280.5 141.7 L282.0 146.0 L282.5 148.0 L285.5 149.5 L288.3 151.7 L291.0 154.5 L294.7 156.7 L298.3 158.0 L301.0 160.3 L304.0 163.0 L307.5 166.0 L311.0 169.0 L315.5 171.0 L319.7 173.0 L324.0 174.0 L325.5 174.0 L329.7 175.5 L332.5 177.5 L334.7 180.5 L338.3 181.0 L342.0 182.0 L344.7 183.3 L347.5 185.5 L349.7 188.3 L352.0 190.0 M352.0 163.5 L347.0 161.0 L342.5 159.0 L338.3 156.7 L334.7 153.0 L332.5 149.0 L331.0 144.5 L329.0 141.0 L325.5 137.5 L321.0 134.5 L317.0 132.5 L312.5 130.3 L309.7 127.5 L308.5 123.0 L308.7 119.5 L311.7 117.8 L309.5 116.0 L307.3 113.4 L308.2 110.8 L312.5 109.0 L316.5 107.7 L320.0 106.4 L322.1 105.1 L325.2 106.0 L327.8 105.1 L330.0 106.4 L329.6 108.6 L327.8 109.9 L328.3 112.5 L329.6 115.2 L330.9 117.8 L332.6 119.5 L334.4 120.0 L335.7 117.8 L337.0 115.6 L338.3 113.4 L340.0 112.1 L342.2 112.5 L344.4 114.3 L346.6 116.0 L348.3 117.8 L349.2 120.4 L350.5 123.0 L351.4 125.2 M338.7 113.8 L340.9 116.5 L340.5 119.5 L341.8 121.7 L340.9 124.3 L338.7 123.5 L339.6 120.8 L338.7 113.8 M342.7 114.7 L345.3 117.8 L347.5 120.8 L349.2 123.9 L351.0 127.0 L351.4 128.7 L349.2 127.8 L347.0 125.2 L345.3 122.6 L343.5 120.0 L341.8 117.8 L342.7 114.7 M344.4 126.1 L346.6 127.8 L349.7 130.4 L351.4 131.8 L348.8 130.9 L346.2 129.1 L344.0 127.4 L344.4 126.1 M264.5 147.1 L265.4 147.1 L266.4 148.5 L266.1 151.4 L266.9 154.2 L267.6 158.0 L266.9 161.9 L265.4 165.2 L264.5 168.5 L263.0 171.4 L262.1 172.3 L259.7 170.9 L257.3 169.5 L255.9 167.6 L254.9 165.2 L254.0 162.8 L253.0 160.4 L252.6 157.6 L253.5 155.2 L255.4 153.8 L258.3 152.3 L261.1 151.4 L263.5 150.9 L264.0 148.5 L264.5 147.1 M262.3 172.3 L264.7 174.2 L267.1 176.6 L269.5 179.0 L270.9 181.9 L271.9 185.2 L270.4 188.0 L268.5 190.4 L270.0 192.3 L270.0 196.6 L269.5 200.4 L268.5 203.8 L267.1 205.7 L264.7 205.7 L262.8 204.7 L261.4 205.7 L259.5 205.2 L259.0 208.0 L256.6 210.0 L253.3 210.0 L251.4 208.0 L250.4 206.6 L249.0 205.7 L249.5 203.3 L250.9 201.4 L250.4 198.5 L251.9 196.1 L250.0 194.2 L250.9 191.4 L250.4 188.5 L248.5 186.1 L247.6 183.3 L246.1 180.9 L246.6 178.0 L249.0 176.1 L247.1 178.0 L248.0 180.0 L251.4 180.0 L254.7 178.5 L258.0 176.1 L260.9 173.8 L262.3 172.3 M311.8 228.0 L311.8 223.0 L320.0 222.8 L330.0 222.8 L340.0 222.6 L346.8 222.5 L349.7 220.3 L348.3 217.0 L346.0 214.7 L343.3 214.7 M158.0 199.5 L162.3 197.0 L166.5 194.7 L170.0 193.3 L171.5 195.5 L174.5 196.0 L175.5 198.3 L173.7 201.0 L171.0 203.3 L168.0 204.7 L166.0 202.5 L163.7 200.5 L160.0 201.0 L158.0 199.5 M180.3 192.5 L184.0 192.0 L187.5 192.5 L189.0 194.7 L186.0 195.5 L182.5 194.3 L180.3 192.5 M142.0 209.5 L143.5 207.0 L146.5 206.3 L147.5 207.8 L145.5 210.0 L143.0 210.5 L142.0 209.5 M275.5 150.5 L278.0 150.0 L281.0 150.5 L280.0 152.0 L277.0 151.8 L275.5 150.5 M287.1 104.2 L287.8 105.4 L284.6 109.9 L282.7 109.2 L284.6 106.7 L287.1 104.2 M302.2 153.5 L303.3 152.4 L304.5 153.5 L303.3 154.7 L302.2 153.5 M219.0 96.5 L221.0 95.0 L224.0 94.5 L227.0 95.5 M259.0 75.5 L262.0 75.0 L265.0 76.5 L268.0 79.0 M256.0 99.7 L253.5 103.5 L252.9 105.4 M227.5 105.0 L230.0 104.0 L233.0 104.5" fill="none" stroke="#000" stroke-width="0.75" stroke-linejoin="round"/>
<path d="M53.0 67.0 L57.0 66.8 L58.5 68.0 L55.0 69.0 M73.0 77.0 L75.0 78.5 M78.4 77.5 L81.8 78.0 M84.6 79.6 L86.2 81.2 M176.0 18.0 L179.0 16.5 L182.0 17.5 L185.0 16.0 L187.0 18.5 M177.0 19.5 L180.0 18.5 L183.0 19.5 L186.0 20.5 M181.0 14.5 L183.0 15.5 L185.5 14.5 M308.2 110.5 L312.5 109.2 M262.1 172.3 L264.7 174.2 L267.1 176.6 L269.2 179.0 L270.3 181.5 M275.4 150.8 L278.0 150.3 L280.7 151.2" fill="none" stroke="#000" stroke-width="1.1"/>
<g fill="#111"><circle cx="27" cy="42.5" r="0.7"/><circle cx="84" cy="50" r="0.7"/><circle cx="86.5" cy="49.5" r="0.7"/><circle cx="90.7" cy="53.3" r="0.7"/><circle cx="91.3" cy="53.6" r="0.7"/><circle cx="46" cy="64.5" r="0.7"/><circle cx="76" cy="82" r="0.7"/><circle cx="87.5" cy="91" r="0.7"/><circle cx="91" cy="90" r="0.7"/><circle cx="145" cy="213" r="0.7"/><circle cx="311" cy="5.5" r="0.7"/><circle cx="318" cy="5.5" r="0.7"/><circle cx="322" cy="4.5" r="0.7"/><circle cx="329.5" cy="5" r="0.7"/><circle cx="338" cy="10.5" r="0.7"/><circle cx="340" cy="17" r="0.7"/><circle cx="271" cy="146.5" r="0.7"/><circle cx="287.5" cy="157.5" r="0.7"/><circle cx="290.5" cy="157.5" r="0.7"/><circle cx="278" cy="157.5" r="0.7"/><circle cx="272.5" cy="141" r="0.7"/><circle cx="319.5" cy="179" r="0.7"/><circle cx="322" cy="212.3" r="0.7"/></g>
</svg>
<text class="a" x="321.8" y="791.5" textLength="167.2" lengthAdjust="spacing">from grib files provided by ECMWF</text>
<text class="a" x="380.8" y="810.6" textLength="107.8" lengthAdjust="spacing">©2025 sb@irizone.net</text>
<rect x="141.1" y="586.0" width="352.0" height="228.4" fill="none" stroke="#000" stroke-width="0.8"/>
</svg></body></html>
